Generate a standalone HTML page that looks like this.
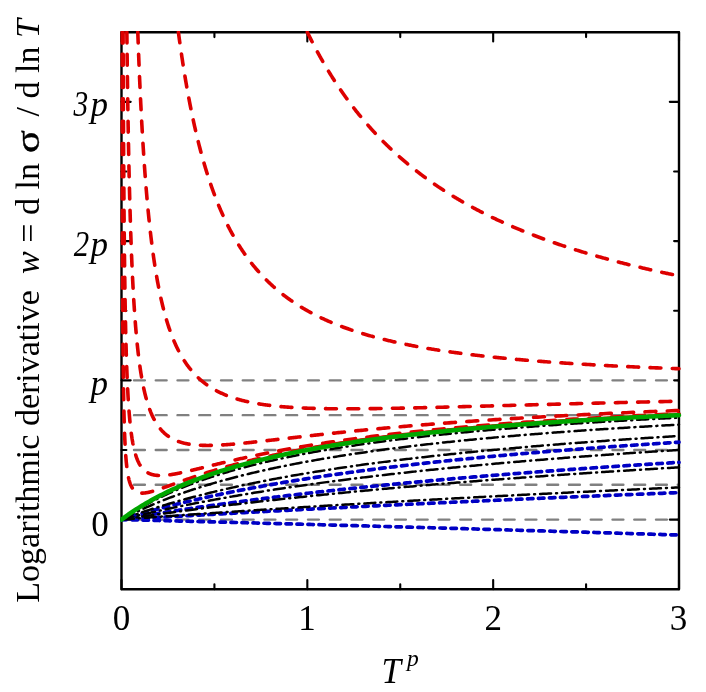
<!DOCTYPE html>
<html><head><meta charset="utf-8"><title>chart</title>
<style>
html,body{margin:0;padding:0;background:#fff;}
body{width:706px;height:692px;position:relative;overflow:hidden;font-family:"Liberation Serif",serif;color:#000;}
</style></head><body>
<svg width="706" height="692" viewBox="0 0 706 692" style="position:absolute;left:0;top:0;will-change:transform">
<defs><clipPath id="cp"><rect x="120.2" y="31" width="563" height="559.4"/></clipPath></defs>
<line x1="134.0" x2="678" y1="519.58" y2="519.58" stroke="#808080" stroke-width="2.4" stroke-linecap="round" stroke-dasharray="10.9 10.85"/>
<line x1="134.0" x2="678" y1="484.76" y2="484.76" stroke="#808080" stroke-width="2.4" stroke-linecap="round" stroke-dasharray="10.9 10.85"/>
<line x1="134.0" x2="678" y1="449.95" y2="449.95" stroke="#808080" stroke-width="2.4" stroke-linecap="round" stroke-dasharray="10.9 10.85"/>
<line x1="134.0" x2="678" y1="415.14" y2="415.14" stroke="#808080" stroke-width="2.4" stroke-linecap="round" stroke-dasharray="10.9 10.85"/>
<line x1="134.0" x2="678" y1="380.33" y2="380.33" stroke="#808080" stroke-width="2.4" stroke-linecap="round" stroke-dasharray="10.9 10.85"/>
<rect x="121.50" y="32.20" width="557.50" height="557.00" fill="none" stroke="#000" stroke-width="2.4" stroke-linejoin="round"/>
<path d="M121.50 589.20v-9.20M121.50 32.20v9.20M214.42 589.20v-4.90M214.42 32.20v4.90M307.33 589.20v-9.20M307.33 32.20v9.20M400.25 589.20v-4.90M400.25 32.20v4.90M493.17 589.20v-9.20M493.17 32.20v9.20M586.08 589.20v-4.90M586.08 32.20v4.90M679.00 589.20v-9.20M679.00 32.20v9.20M121.50 519.58h9.20M679.00 519.58h-9.20M121.50 449.95h4.90M679.00 449.95h-4.90M121.50 380.33h9.20M679.00 380.33h-4.90M121.50 310.70h4.90M679.00 310.70h-4.90M121.50 241.08h9.20M679.00 241.08h-4.90M121.50 171.45h4.90M679.00 171.45h-4.90M121.50 101.83h9.20M679.00 101.83h-9.20" stroke="#000" stroke-width="2.1" fill="none" stroke-linecap="round"/>
<g clip-path="url(#cp)" fill="none" stroke-linecap="round">
<path d="M121.50 519.58 L123.36 519.00 L125.23 518.42 L127.09 517.85 L128.96 517.28 L130.82 516.72 L132.69 516.17 L134.55 515.62 L136.42 515.07 L138.28 514.53 L140.15 513.99 L142.01 513.45 L143.87 512.92 L145.74 512.40 L147.60 511.88 L149.47 511.36 L151.33 510.84 L153.20 510.34 L155.06 509.83 L156.93 509.33 L158.79 508.83 L160.66 508.34 L162.52 507.85 L164.38 507.36 L166.25 506.88 L168.11 506.40 L169.98 505.92 L171.84 505.45 L173.71 504.98 L175.57 504.52 L177.44 504.06 L179.30 503.60 L181.17 503.14 L183.03 502.69 L184.89 502.25 L186.76 501.80 L188.62 501.36 L190.49 500.92 L192.35 500.49 L194.22 500.05 L196.08 499.63 L197.95 499.20 L199.81 498.78 L201.68 498.36 L203.54 497.94 L205.40 497.53 L207.27 497.12 L209.13 496.71 L211.00 496.30 L212.86 495.90 L214.73 495.50 L216.59 495.10 L218.46 494.71 L220.32 494.32 L222.19 493.93 L224.05 493.54 L225.91 493.16 L227.78 492.78 L229.64 492.40 L231.51 492.02 L233.37 491.65 L235.24 491.28 L237.10 490.91 L238.97 490.55 L240.83 490.18 L242.70 489.82 L244.56 489.46 L246.42 489.11 L248.29 488.75 L250.15 488.40 L252.02 488.05 L253.88 487.70 L255.75 487.36 L257.61 487.01 L259.48 486.67 L261.34 486.34 L263.21 486.00 L265.07 485.67 L266.93 485.33 L268.80 485.00 L270.66 484.68 L272.53 484.35 L274.39 484.03 L276.26 483.70 L278.12 483.38 L279.99 483.07 L281.85 482.75 L283.72 482.44 L285.58 482.12 L287.44 481.81 L289.31 481.51 L291.17 481.20 L293.04 480.89 L294.90 480.59 L296.77 480.29 L298.63 479.99 L300.50 479.69 L302.36 479.40 L304.23 479.10 L306.09 478.81 L307.95 478.52 L309.82 478.23 L311.68 477.95 L313.55 477.66 L315.41 477.38 L317.28 477.10 L319.14 476.82 L321.01 476.54 L322.87 476.26 L324.74 475.98 L326.60 475.71 L328.46 475.44 L330.33 475.17 L332.19 474.90 L334.06 474.63 L335.92 474.36 L337.79 474.10 L339.65 473.84 L341.52 473.57 L343.38 473.31 L345.25 473.05 L347.11 472.80 L348.97 472.54 L350.84 472.29 L352.70 472.03 L354.57 471.78 L356.43 471.53 L358.30 471.28 L360.16 471.03 L362.03 470.79 L363.89 470.54 L365.76 470.30 L367.62 470.06 L369.48 469.82 L371.35 469.58 L373.21 469.34 L375.08 469.10 L376.94 468.86 L378.81 468.63 L380.67 468.40 L382.54 468.16 L384.40 467.93 L386.27 467.70 L388.13 467.47 L389.99 467.25 L391.86 467.02 L393.72 466.80 L395.59 466.57 L397.45 466.35 L399.32 466.13 L401.18 465.91 L403.05 465.69 L404.91 465.47 L406.78 465.25 L408.64 465.04 L410.51 464.82 L412.37 464.61 L414.23 464.40 L416.10 464.18 L417.96 463.97 L419.83 463.76 L421.69 463.55 L423.56 463.35 L425.42 463.14 L427.29 462.94 L429.15 462.73 L431.02 462.53 L432.88 462.33 L434.74 462.12 L436.61 461.92 L438.47 461.72 L440.34 461.53 L442.20 461.33 L444.07 461.13 L445.93 460.94 L447.80 460.74 L449.66 460.55 L451.53 460.36 L453.39 460.16 L455.25 459.97 L457.12 459.78 L458.98 459.59 L460.85 459.41 L462.71 459.22 L464.58 459.03 L466.44 458.85 L468.31 458.66 L470.17 458.48 L472.04 458.29 L473.90 458.11 L475.76 457.93 L477.63 457.75 L479.49 457.57 L481.36 457.39 L483.22 457.21 L485.09 457.04 L486.95 456.86 L488.82 456.69 L490.68 456.51 L492.55 456.34 L494.41 456.16 L496.27 455.99 L498.14 455.82 L500.00 455.65 L501.87 455.48 L503.73 455.31 L505.60 455.14 L507.46 454.97 L509.33 454.81 L511.19 454.64 L513.06 454.48 L514.92 454.31 L516.78 454.15 L518.65 453.98 L520.51 453.82 L522.38 453.66 L524.24 453.50 L526.11 453.34 L527.97 453.18 L529.84 453.02 L531.70 452.86 L533.57 452.70 L535.43 452.55 L537.29 452.39 L539.16 452.23 L541.02 452.08 L542.89 451.93 L544.75 451.77 L546.62 451.62 L548.48 451.47 L550.35 451.32 L552.21 451.16 L554.08 451.01 L555.94 450.86 L557.80 450.72 L559.67 450.57 L561.53 450.42 L563.40 450.27 L565.26 450.13 L567.13 449.98 L568.99 449.83 L570.86 449.69 L572.72 449.54 L574.59 449.40 L576.45 449.26 L578.31 449.12 L580.18 448.97 L582.04 448.83 L583.91 448.69 L585.77 448.55 L587.64 448.41 L589.50 448.27 L591.37 448.14 L593.23 448.00 L595.10 447.86 L596.96 447.72 L598.82 447.59 L600.69 447.45 L602.55 447.32 L604.42 447.18 L606.28 447.05 L608.15 446.92 L610.01 446.78 L611.88 446.65 L613.74 446.52 L615.61 446.39 L617.47 446.26 L619.33 446.13 L621.20 446.00 L623.06 445.87 L624.93 445.74 L626.79 445.61 L628.66 445.48 L630.52 445.36 L632.39 445.23 L634.25 445.10 L636.12 444.98 L637.98 444.85 L639.84 444.73 L641.71 444.60 L643.57 444.48 L645.44 444.36 L647.30 444.23 L649.17 444.11 L651.03 443.99 L652.90 443.87 L654.76 443.75 L656.63 443.63 L658.49 443.51 L660.35 443.39 L662.22 443.27 L664.08 443.15 L665.95 443.03 L667.81 442.91 L669.68 442.79 L671.54 442.68 L673.41 442.56 L675.27 442.44 L677.14 442.33 L679.00 442.21" stroke="#0000c4" stroke-width="3.7" stroke-dasharray="5.5 5.5" stroke-dashoffset="0.5"/>
<path d="M121.50 519.58 L123.36 519.25 L125.23 518.93 L127.09 518.61 L128.96 518.29 L130.82 517.97 L132.69 517.65 L134.55 517.34 L136.42 517.02 L138.28 516.71 L140.15 516.40 L142.01 516.09 L143.87 515.78 L145.74 515.48 L147.60 515.17 L149.47 514.87 L151.33 514.56 L153.20 514.26 L155.06 513.96 L156.93 513.66 L158.79 513.37 L160.66 513.07 L162.52 512.78 L164.38 512.48 L166.25 512.19 L168.11 511.90 L169.98 511.61 L171.84 511.32 L173.71 511.04 L175.57 510.75 L177.44 510.47 L179.30 510.18 L181.17 509.90 L183.03 509.62 L184.89 509.34 L186.76 509.06 L188.62 508.78 L190.49 508.51 L192.35 508.23 L194.22 507.96 L196.08 507.69 L197.95 507.42 L199.81 507.15 L201.68 506.88 L203.54 506.61 L205.40 506.34 L207.27 506.08 L209.13 505.81 L211.00 505.55 L212.86 505.29 L214.73 505.03 L216.59 504.77 L218.46 504.51 L220.32 504.25 L222.19 503.99 L224.05 503.74 L225.91 503.48 L227.78 503.23 L229.64 502.98 L231.51 502.72 L233.37 502.47 L235.24 502.22 L237.10 501.98 L238.97 501.73 L240.83 501.48 L242.70 501.24 L244.56 500.99 L246.42 500.75 L248.29 500.51 L250.15 500.26 L252.02 500.02 L253.88 499.78 L255.75 499.55 L257.61 499.31 L259.48 499.07 L261.34 498.84 L263.21 498.60 L265.07 498.37 L266.93 498.13 L268.80 497.90 L270.66 497.67 L272.53 497.44 L274.39 497.21 L276.26 496.98 L278.12 496.75 L279.99 496.53 L281.85 496.30 L283.72 496.08 L285.58 495.85 L287.44 495.63 L289.31 495.41 L291.17 495.19 L293.04 494.97 L294.90 494.75 L296.77 494.53 L298.63 494.31 L300.50 494.09 L302.36 493.87 L304.23 493.66 L306.09 493.44 L307.95 493.23 L309.82 493.02 L311.68 492.80 L313.55 492.59 L315.41 492.38 L317.28 492.17 L319.14 491.96 L321.01 491.75 L322.87 491.55 L324.74 491.34 L326.60 491.13 L328.46 490.93 L330.33 490.72 L332.19 490.52 L334.06 490.32 L335.92 490.11 L337.79 489.91 L339.65 489.71 L341.52 489.51 L343.38 489.31 L345.25 489.11 L347.11 488.92 L348.97 488.72 L350.84 488.52 L352.70 488.33 L354.57 488.13 L356.43 487.94 L358.30 487.74 L360.16 487.55 L362.03 487.36 L363.89 487.17 L365.76 486.98 L367.62 486.78 L369.48 486.60 L371.35 486.41 L373.21 486.22 L375.08 486.03 L376.94 485.84 L378.81 485.66 L380.67 485.47 L382.54 485.29 L384.40 485.10 L386.27 484.92 L388.13 484.74 L389.99 484.55 L391.86 484.37 L393.72 484.19 L395.59 484.01 L397.45 483.83 L399.32 483.65 L401.18 483.47 L403.05 483.29 L404.91 483.12 L406.78 482.94 L408.64 482.76 L410.51 482.59 L412.37 482.41 L414.23 482.24 L416.10 482.07 L417.96 481.89 L419.83 481.72 L421.69 481.55 L423.56 481.38 L425.42 481.21 L427.29 481.04 L429.15 480.87 L431.02 480.70 L432.88 480.53 L434.74 480.36 L436.61 480.19 L438.47 480.03 L440.34 479.86 L442.20 479.69 L444.07 479.53 L445.93 479.36 L447.80 479.20 L449.66 479.04 L451.53 478.87 L453.39 478.71 L455.25 478.55 L457.12 478.39 L458.98 478.23 L460.85 478.07 L462.71 477.91 L464.58 477.75 L466.44 477.59 L468.31 477.43 L470.17 477.27 L472.04 477.12 L473.90 476.96 L475.76 476.80 L477.63 476.65 L479.49 476.49 L481.36 476.34 L483.22 476.18 L485.09 476.03 L486.95 475.88 L488.82 475.72 L490.68 475.57 L492.55 475.42 L494.41 475.27 L496.27 475.12 L498.14 474.97 L500.00 474.82 L501.87 474.67 L503.73 474.52 L505.60 474.37 L507.46 474.22 L509.33 474.07 L511.19 473.93 L513.06 473.78 L514.92 473.63 L516.78 473.49 L518.65 473.34 L520.51 473.20 L522.38 473.05 L524.24 472.91 L526.11 472.77 L527.97 472.62 L529.84 472.48 L531.70 472.34 L533.57 472.20 L535.43 472.06 L537.29 471.92 L539.16 471.78 L541.02 471.64 L542.89 471.50 L544.75 471.36 L546.62 471.22 L548.48 471.08 L550.35 470.94 L552.21 470.81 L554.08 470.67 L555.94 470.53 L557.80 470.40 L559.67 470.26 L561.53 470.12 L563.40 469.99 L565.26 469.86 L567.13 469.72 L568.99 469.59 L570.86 469.45 L572.72 469.32 L574.59 469.19 L576.45 469.06 L578.31 468.92 L580.18 468.79 L582.04 468.66 L583.91 468.53 L585.77 468.40 L587.64 468.27 L589.50 468.14 L591.37 468.01 L593.23 467.88 L595.10 467.76 L596.96 467.63 L598.82 467.50 L600.69 467.37 L602.55 467.25 L604.42 467.12 L606.28 466.99 L608.15 466.87 L610.01 466.74 L611.88 466.62 L613.74 466.49 L615.61 466.37 L617.47 466.25 L619.33 466.12 L621.20 466.00 L623.06 465.88 L624.93 465.75 L626.79 465.63 L628.66 465.51 L630.52 465.39 L632.39 465.27 L634.25 465.15 L636.12 465.03 L637.98 464.91 L639.84 464.79 L641.71 464.67 L643.57 464.55 L645.44 464.43 L647.30 464.31 L649.17 464.19 L651.03 464.08 L652.90 463.96 L654.76 463.84 L656.63 463.72 L658.49 463.61 L660.35 463.49 L662.22 463.38 L664.08 463.26 L665.95 463.15 L667.81 463.03 L669.68 462.92 L671.54 462.80 L673.41 462.69 L675.27 462.58 L677.14 462.46 L679.00 462.35" stroke="#0000c4" stroke-width="3.7" stroke-dasharray="5.5 5.5" stroke-dashoffset="0.5"/>
<path d="M121.50 519.58 L123.36 519.46 L125.23 519.35 L127.09 519.24 L128.96 519.13 L130.82 519.02 L132.69 518.91 L134.55 518.80 L136.42 518.69 L138.28 518.58 L140.15 518.47 L142.01 518.36 L143.87 518.25 L145.74 518.14 L147.60 518.03 L149.47 517.92 L151.33 517.81 L153.20 517.70 L155.06 517.59 L156.93 517.48 L158.79 517.37 L160.66 517.27 L162.52 517.16 L164.38 517.05 L166.25 516.94 L168.11 516.84 L169.98 516.73 L171.84 516.62 L173.71 516.51 L175.57 516.41 L177.44 516.30 L179.30 516.19 L181.17 516.09 L183.03 515.98 L184.89 515.88 L186.76 515.77 L188.62 515.66 L190.49 515.56 L192.35 515.45 L194.22 515.35 L196.08 515.24 L197.95 515.14 L199.81 515.03 L201.68 514.93 L203.54 514.82 L205.40 514.72 L207.27 514.62 L209.13 514.51 L211.00 514.41 L212.86 514.31 L214.73 514.20 L216.59 514.10 L218.46 514.00 L220.32 513.89 L222.19 513.79 L224.05 513.69 L225.91 513.58 L227.78 513.48 L229.64 513.38 L231.51 513.28 L233.37 513.18 L235.24 513.08 L237.10 512.97 L238.97 512.87 L240.83 512.77 L242.70 512.67 L244.56 512.57 L246.42 512.47 L248.29 512.37 L250.15 512.27 L252.02 512.17 L253.88 512.07 L255.75 511.97 L257.61 511.87 L259.48 511.77 L261.34 511.67 L263.21 511.57 L265.07 511.47 L266.93 511.37 L268.80 511.27 L270.66 511.17 L272.53 511.07 L274.39 510.98 L276.26 510.88 L278.12 510.78 L279.99 510.68 L281.85 510.58 L283.72 510.49 L285.58 510.39 L287.44 510.29 L289.31 510.19 L291.17 510.10 L293.04 510.00 L294.90 509.90 L296.77 509.81 L298.63 509.71 L300.50 509.61 L302.36 509.52 L304.23 509.42 L306.09 509.32 L307.95 509.23 L309.82 509.13 L311.68 509.04 L313.55 508.94 L315.41 508.85 L317.28 508.75 L319.14 508.66 L321.01 508.56 L322.87 508.47 L324.74 508.37 L326.60 508.28 L328.46 508.18 L330.33 508.09 L332.19 508.00 L334.06 507.90 L335.92 507.81 L337.79 507.71 L339.65 507.62 L341.52 507.53 L343.38 507.43 L345.25 507.34 L347.11 507.25 L348.97 507.15 L350.84 507.06 L352.70 506.97 L354.57 506.88 L356.43 506.79 L358.30 506.69 L360.16 506.60 L362.03 506.51 L363.89 506.42 L365.76 506.33 L367.62 506.23 L369.48 506.14 L371.35 506.05 L373.21 505.96 L375.08 505.87 L376.94 505.78 L378.81 505.69 L380.67 505.60 L382.54 505.51 L384.40 505.42 L386.27 505.33 L388.13 505.24 L389.99 505.15 L391.86 505.06 L393.72 504.97 L395.59 504.88 L397.45 504.79 L399.32 504.70 L401.18 504.61 L403.05 504.52 L404.91 504.43 L406.78 504.34 L408.64 504.26 L410.51 504.17 L412.37 504.08 L414.23 503.99 L416.10 503.90 L417.96 503.81 L419.83 503.73 L421.69 503.64 L423.56 503.55 L425.42 503.46 L427.29 503.38 L429.15 503.29 L431.02 503.20 L432.88 503.12 L434.74 503.03 L436.61 502.94 L438.47 502.86 L440.34 502.77 L442.20 502.68 L444.07 502.60 L445.93 502.51 L447.80 502.42 L449.66 502.34 L451.53 502.25 L453.39 502.17 L455.25 502.08 L457.12 502.00 L458.98 501.91 L460.85 501.83 L462.71 501.74 L464.58 501.66 L466.44 501.57 L468.31 501.49 L470.17 501.40 L472.04 501.32 L473.90 501.23 L475.76 501.15 L477.63 501.06 L479.49 500.98 L481.36 500.90 L483.22 500.81 L485.09 500.73 L486.95 500.65 L488.82 500.56 L490.68 500.48 L492.55 500.40 L494.41 500.31 L496.27 500.23 L498.14 500.15 L500.00 500.06 L501.87 499.98 L503.73 499.90 L505.60 499.82 L507.46 499.73 L509.33 499.65 L511.19 499.57 L513.06 499.49 L514.92 499.41 L516.78 499.33 L518.65 499.24 L520.51 499.16 L522.38 499.08 L524.24 499.00 L526.11 498.92 L527.97 498.84 L529.84 498.76 L531.70 498.68 L533.57 498.59 L535.43 498.51 L537.29 498.43 L539.16 498.35 L541.02 498.27 L542.89 498.19 L544.75 498.11 L546.62 498.03 L548.48 497.95 L550.35 497.87 L552.21 497.79 L554.08 497.71 L555.94 497.64 L557.80 497.56 L559.67 497.48 L561.53 497.40 L563.40 497.32 L565.26 497.24 L567.13 497.16 L568.99 497.08 L570.86 497.00 L572.72 496.93 L574.59 496.85 L576.45 496.77 L578.31 496.69 L580.18 496.61 L582.04 496.54 L583.91 496.46 L585.77 496.38 L587.64 496.30 L589.50 496.22 L591.37 496.15 L593.23 496.07 L595.10 495.99 L596.96 495.92 L598.82 495.84 L600.69 495.76 L602.55 495.69 L604.42 495.61 L606.28 495.53 L608.15 495.46 L610.01 495.38 L611.88 495.30 L613.74 495.23 L615.61 495.15 L617.47 495.07 L619.33 495.00 L621.20 494.92 L623.06 494.85 L624.93 494.77 L626.79 494.70 L628.66 494.62 L630.52 494.55 L632.39 494.47 L634.25 494.40 L636.12 494.32 L637.98 494.25 L639.84 494.17 L641.71 494.10 L643.57 494.02 L645.44 493.95 L647.30 493.87 L649.17 493.80 L651.03 493.72 L652.90 493.65 L654.76 493.58 L656.63 493.50 L658.49 493.43 L660.35 493.36 L662.22 493.28 L664.08 493.21 L665.95 493.13 L667.81 493.06 L669.68 492.99 L671.54 492.91 L673.41 492.84 L675.27 492.77 L677.14 492.70 L679.00 492.62" stroke="#0000c4" stroke-width="3.7" stroke-dasharray="5.5 5.5" stroke-dashoffset="0.5"/>
<path d="M121.50 519.58 L123.36 519.62 L125.23 519.67 L127.09 519.71 L128.96 519.76 L130.82 519.81 L132.69 519.85 L134.55 519.90 L136.42 519.95 L138.28 520.00 L140.15 520.04 L142.01 520.09 L143.87 520.14 L145.74 520.18 L147.60 520.23 L149.47 520.28 L151.33 520.32 L153.20 520.37 L155.06 520.42 L156.93 520.47 L158.79 520.51 L160.66 520.56 L162.52 520.61 L164.38 520.65 L166.25 520.70 L168.11 520.75 L169.98 520.80 L171.84 520.84 L173.71 520.89 L175.57 520.94 L177.44 520.99 L179.30 521.03 L181.17 521.08 L183.03 521.13 L184.89 521.18 L186.76 521.22 L188.62 521.27 L190.49 521.32 L192.35 521.37 L194.22 521.42 L196.08 521.46 L197.95 521.51 L199.81 521.56 L201.68 521.61 L203.54 521.65 L205.40 521.70 L207.27 521.75 L209.13 521.80 L211.00 521.85 L212.86 521.90 L214.73 521.94 L216.59 521.99 L218.46 522.04 L220.32 522.09 L222.19 522.14 L224.05 522.18 L225.91 522.23 L227.78 522.28 L229.64 522.33 L231.51 522.38 L233.37 522.43 L235.24 522.48 L237.10 522.52 L238.97 522.57 L240.83 522.62 L242.70 522.67 L244.56 522.72 L246.42 522.77 L248.29 522.82 L250.15 522.86 L252.02 522.91 L253.88 522.96 L255.75 523.01 L257.61 523.06 L259.48 523.11 L261.34 523.16 L263.21 523.21 L265.07 523.26 L266.93 523.30 L268.80 523.35 L270.66 523.40 L272.53 523.45 L274.39 523.50 L276.26 523.55 L278.12 523.60 L279.99 523.65 L281.85 523.70 L283.72 523.75 L285.58 523.80 L287.44 523.85 L289.31 523.90 L291.17 523.95 L293.04 524.00 L294.90 524.05 L296.77 524.09 L298.63 524.14 L300.50 524.19 L302.36 524.24 L304.23 524.29 L306.09 524.34 L307.95 524.39 L309.82 524.44 L311.68 524.49 L313.55 524.54 L315.41 524.59 L317.28 524.64 L319.14 524.69 L321.01 524.74 L322.87 524.79 L324.74 524.84 L326.60 524.89 L328.46 524.94 L330.33 524.99 L332.19 525.04 L334.06 525.09 L335.92 525.15 L337.79 525.20 L339.65 525.25 L341.52 525.30 L343.38 525.35 L345.25 525.40 L347.11 525.45 L348.97 525.50 L350.84 525.55 L352.70 525.60 L354.57 525.65 L356.43 525.70 L358.30 525.75 L360.16 525.80 L362.03 525.85 L363.89 525.90 L365.76 525.96 L367.62 526.01 L369.48 526.06 L371.35 526.11 L373.21 526.16 L375.08 526.21 L376.94 526.26 L378.81 526.31 L380.67 526.36 L382.54 526.42 L384.40 526.47 L386.27 526.52 L388.13 526.57 L389.99 526.62 L391.86 526.67 L393.72 526.72 L395.59 526.78 L397.45 526.83 L399.32 526.88 L401.18 526.93 L403.05 526.98 L404.91 527.03 L406.78 527.08 L408.64 527.14 L410.51 527.19 L412.37 527.24 L414.23 527.29 L416.10 527.34 L417.96 527.40 L419.83 527.45 L421.69 527.50 L423.56 527.55 L425.42 527.60 L427.29 527.66 L429.15 527.71 L431.02 527.76 L432.88 527.81 L434.74 527.86 L436.61 527.92 L438.47 527.97 L440.34 528.02 L442.20 528.07 L444.07 528.13 L445.93 528.18 L447.80 528.23 L449.66 528.28 L451.53 528.34 L453.39 528.39 L455.25 528.44 L457.12 528.49 L458.98 528.55 L460.85 528.60 L462.71 528.65 L464.58 528.71 L466.44 528.76 L468.31 528.81 L470.17 528.86 L472.04 528.92 L473.90 528.97 L475.76 529.02 L477.63 529.08 L479.49 529.13 L481.36 529.18 L483.22 529.24 L485.09 529.29 L486.95 529.34 L488.82 529.40 L490.68 529.45 L492.55 529.50 L494.41 529.56 L496.27 529.61 L498.14 529.66 L500.00 529.72 L501.87 529.77 L503.73 529.83 L505.60 529.88 L507.46 529.93 L509.33 529.99 L511.19 530.04 L513.06 530.09 L514.92 530.15 L516.78 530.20 L518.65 530.26 L520.51 530.31 L522.38 530.36 L524.24 530.42 L526.11 530.47 L527.97 530.53 L529.84 530.58 L531.70 530.63 L533.57 530.69 L535.43 530.74 L537.29 530.80 L539.16 530.85 L541.02 530.91 L542.89 530.96 L544.75 531.02 L546.62 531.07 L548.48 531.12 L550.35 531.18 L552.21 531.23 L554.08 531.29 L555.94 531.34 L557.80 531.40 L559.67 531.45 L561.53 531.51 L563.40 531.56 L565.26 531.62 L567.13 531.67 L568.99 531.73 L570.86 531.78 L572.72 531.84 L574.59 531.89 L576.45 531.95 L578.31 532.00 L580.18 532.06 L582.04 532.11 L583.91 532.17 L585.77 532.22 L587.64 532.28 L589.50 532.34 L591.37 532.39 L593.23 532.45 L595.10 532.50 L596.96 532.56 L598.82 532.61 L600.69 532.67 L602.55 532.73 L604.42 532.78 L606.28 532.84 L608.15 532.89 L610.01 532.95 L611.88 533.00 L613.74 533.06 L615.61 533.12 L617.47 533.17 L619.33 533.23 L621.20 533.29 L623.06 533.34 L624.93 533.40 L626.79 533.45 L628.66 533.51 L630.52 533.57 L632.39 533.62 L634.25 533.68 L636.12 533.74 L637.98 533.79 L639.84 533.85 L641.71 533.91 L643.57 533.96 L645.44 534.02 L647.30 534.08 L649.17 534.13 L651.03 534.19 L652.90 534.25 L654.76 534.30 L656.63 534.36 L658.49 534.42 L660.35 534.47 L662.22 534.53 L664.08 534.59 L665.95 534.65 L667.81 534.70 L669.68 534.76 L671.54 534.82 L673.41 534.87 L675.27 534.93 L677.14 534.99 L679.00 535.05" stroke="#0000c4" stroke-width="3.7" stroke-dasharray="5.5 5.5" stroke-dashoffset="0.5"/>
<path d="M121.50 519.58 L123.36 518.32 L125.23 517.08 L127.09 515.87 L128.96 514.67 L130.82 513.50 L132.69 512.35 L134.55 511.22 L136.42 510.10 L138.28 509.01 L140.15 507.94 L142.01 506.88 L143.87 505.84 L145.74 504.81 L147.60 503.81 L149.47 502.82 L151.33 501.84 L153.20 500.88 L155.06 499.94 L156.93 499.01 L158.79 498.09 L160.66 497.19 L162.52 496.30 L164.38 495.43 L166.25 494.57 L168.11 493.72 L169.98 492.88 L171.84 492.06 L173.71 491.25 L175.57 490.45 L177.44 489.66 L179.30 488.88 L181.17 488.11 L183.03 487.36 L184.89 486.61 L186.76 485.88 L188.62 485.15 L190.49 484.44 L192.35 483.73 L194.22 483.04 L196.08 482.35 L197.95 481.67 L199.81 481.00 L201.68 480.35 L203.54 479.69 L205.40 479.05 L207.27 478.42 L209.13 477.79 L211.00 477.17 L212.86 476.56 L214.73 475.96 L216.59 475.36 L218.46 474.78 L220.32 474.20 L222.19 473.62 L224.05 473.05 L225.91 472.50 L227.78 471.94 L229.64 471.40 L231.51 470.86 L233.37 470.32 L235.24 469.79 L237.10 469.27 L238.97 468.76 L240.83 468.25 L242.70 467.74 L244.56 467.25 L246.42 466.76 L248.29 466.27 L250.15 465.79 L252.02 465.31 L253.88 464.84 L255.75 464.38 L257.61 463.92 L259.48 463.46 L261.34 463.01 L263.21 462.56 L265.07 462.12 L266.93 461.69 L268.80 461.26 L270.66 460.83 L272.53 460.41 L274.39 459.99 L276.26 459.58 L278.12 459.17 L279.99 458.76 L281.85 458.36 L283.72 457.96 L285.58 457.57 L287.44 457.18 L289.31 456.80 L291.17 456.42 L293.04 456.04 L294.90 455.67 L296.77 455.30 L298.63 454.93 L300.50 454.57 L302.36 454.21 L304.23 453.85 L306.09 453.50 L307.95 453.15 L309.82 452.80 L311.68 452.46 L313.55 452.12 L315.41 451.79 L317.28 451.45 L319.14 451.12 L321.01 450.80 L322.87 450.47 L324.74 450.15 L326.60 449.83 L328.46 449.52 L330.33 449.21 L332.19 448.90 L334.06 448.59 L335.92 448.29 L337.79 447.99 L339.65 447.69 L341.52 447.39 L343.38 447.10 L345.25 446.81 L347.11 446.52 L348.97 446.23 L350.84 445.95 L352.70 445.67 L354.57 445.39 L356.43 445.11 L358.30 444.84 L360.16 444.57 L362.03 444.30 L363.89 444.03 L365.76 443.77 L367.62 443.51 L369.48 443.24 L371.35 442.99 L373.21 442.73 L375.08 442.48 L376.94 442.22 L378.81 441.97 L380.67 441.73 L382.54 441.48 L384.40 441.24 L386.27 440.99 L388.13 440.75 L389.99 440.52 L391.86 440.28 L393.72 440.05 L395.59 439.81 L397.45 439.58 L399.32 439.35 L401.18 439.13 L403.05 438.90 L404.91 438.68 L406.78 438.45 L408.64 438.23 L410.51 438.01 L412.37 437.80 L414.23 437.58 L416.10 437.37 L417.96 437.16 L419.83 436.94 L421.69 436.74 L423.56 436.53 L425.42 436.32 L427.29 436.12 L429.15 435.91 L431.02 435.71 L432.88 435.51 L434.74 435.31 L436.61 435.12 L438.47 434.92 L440.34 434.72 L442.20 434.53 L444.07 434.34 L445.93 434.15 L447.80 433.96 L449.66 433.77 L451.53 433.59 L453.39 433.40 L455.25 433.22 L457.12 433.03 L458.98 432.85 L460.85 432.67 L462.71 432.49 L464.58 432.32 L466.44 432.14 L468.31 431.96 L470.17 431.79 L472.04 431.62 L473.90 431.45 L475.76 431.28 L477.63 431.11 L479.49 430.94 L481.36 430.77 L483.22 430.60 L485.09 430.44 L486.95 430.28 L488.82 430.11 L490.68 429.95 L492.55 429.79 L494.41 429.63 L496.27 429.47 L498.14 429.31 L500.00 429.16 L501.87 429.00 L503.73 428.85 L505.60 428.69 L507.46 428.54 L509.33 428.39 L511.19 428.24 L513.06 428.09 L514.92 427.94 L516.78 427.79 L518.65 427.64 L520.51 427.50 L522.38 427.35 L524.24 427.21 L526.11 427.06 L527.97 426.92 L529.84 426.78 L531.70 426.64 L533.57 426.50 L535.43 426.36 L537.29 426.22 L539.16 426.08 L541.02 425.95 L542.89 425.81 L544.75 425.68 L546.62 425.54 L548.48 425.41 L550.35 425.27 L552.21 425.14 L554.08 425.01 L555.94 424.88 L557.80 424.75 L559.67 424.62 L561.53 424.49 L563.40 424.37 L565.26 424.24 L567.13 424.11 L568.99 423.99 L570.86 423.86 L572.72 423.74 L574.59 423.62 L576.45 423.50 L578.31 423.37 L580.18 423.25 L582.04 423.13 L583.91 423.01 L585.77 422.89 L587.64 422.78 L589.50 422.66 L591.37 422.54 L593.23 422.42 L595.10 422.31 L596.96 422.19 L598.82 422.08 L600.69 421.96 L602.55 421.85 L604.42 421.74 L606.28 421.63 L608.15 421.52 L610.01 421.40 L611.88 421.29 L613.74 421.18 L615.61 421.08 L617.47 420.97 L619.33 420.86 L621.20 420.75 L623.06 420.64 L624.93 420.54 L626.79 420.43 L628.66 420.33 L630.52 420.22 L632.39 420.12 L634.25 420.02 L636.12 419.91 L637.98 419.81 L639.84 419.71 L641.71 419.61 L643.57 419.51 L645.44 419.41 L647.30 419.31 L649.17 419.21 L651.03 419.11 L652.90 419.01 L654.76 418.91 L656.63 418.82 L658.49 418.72 L660.35 418.62 L662.22 418.53 L664.08 418.43 L665.95 418.34 L667.81 418.24 L669.68 418.15 L671.54 418.05 L673.41 417.96 L675.27 417.87 L677.14 417.78 L679.00 417.68" stroke="#000" stroke-width="2.5" stroke-dasharray="11 5 1 5" stroke-dashoffset="-2.5"/>
<path d="M121.50 519.58 L123.36 518.58 L125.23 517.61 L127.09 516.64 L128.96 515.69 L130.82 514.76 L132.69 513.83 L134.55 512.92 L136.42 512.02 L138.28 511.14 L140.15 510.26 L142.01 509.40 L143.87 508.55 L145.74 507.71 L147.60 506.88 L149.47 506.06 L151.33 505.25 L153.20 504.45 L155.06 503.66 L156.93 502.89 L158.79 502.12 L160.66 501.36 L162.52 500.61 L164.38 499.87 L166.25 499.14 L168.11 498.42 L169.98 497.70 L171.84 497.00 L173.71 496.30 L175.57 495.61 L177.44 494.93 L179.30 494.26 L181.17 493.60 L183.03 492.94 L184.89 492.29 L186.76 491.65 L188.62 491.02 L190.49 490.39 L192.35 489.77 L194.22 489.16 L196.08 488.55 L197.95 487.95 L199.81 487.36 L201.68 486.77 L203.54 486.19 L205.40 485.62 L207.27 485.05 L209.13 484.49 L211.00 483.93 L212.86 483.38 L214.73 482.84 L216.59 482.30 L218.46 481.77 L220.32 481.24 L222.19 480.72 L224.05 480.21 L225.91 479.69 L227.78 479.19 L229.64 478.69 L231.51 478.19 L233.37 477.70 L235.24 477.22 L237.10 476.74 L238.97 476.26 L240.83 475.79 L242.70 475.32 L244.56 474.86 L246.42 474.40 L248.29 473.95 L250.15 473.50 L252.02 473.05 L253.88 472.61 L255.75 472.18 L257.61 471.75 L259.48 471.32 L261.34 470.89 L263.21 470.47 L265.07 470.06 L266.93 469.64 L268.80 469.24 L270.66 468.83 L272.53 468.43 L274.39 468.03 L276.26 467.64 L278.12 467.25 L279.99 466.86 L281.85 466.48 L283.72 466.10 L285.58 465.72 L287.44 465.35 L289.31 464.98 L291.17 464.61 L293.04 464.24 L294.90 463.88 L296.77 463.53 L298.63 463.17 L300.50 462.82 L302.36 462.47 L304.23 462.12 L306.09 461.78 L307.95 461.44 L309.82 461.10 L311.68 460.77 L313.55 460.44 L315.41 460.11 L317.28 459.78 L319.14 459.46 L321.01 459.14 L322.87 458.82 L324.74 458.50 L326.60 458.19 L328.46 457.88 L330.33 457.57 L332.19 457.27 L334.06 456.96 L335.92 456.66 L337.79 456.36 L339.65 456.07 L341.52 455.77 L343.38 455.48 L345.25 455.19 L347.11 454.90 L348.97 454.62 L350.84 454.33 L352.70 454.05 L354.57 453.78 L356.43 453.50 L358.30 453.22 L360.16 452.95 L362.03 452.68 L363.89 452.41 L365.76 452.15 L367.62 451.88 L369.48 451.62 L371.35 451.36 L373.21 451.10 L375.08 450.84 L376.94 450.59 L378.81 450.33 L380.67 450.08 L382.54 449.83 L384.40 449.59 L386.27 449.34 L388.13 449.10 L389.99 448.85 L391.86 448.61 L393.72 448.37 L395.59 448.14 L397.45 447.90 L399.32 447.67 L401.18 447.43 L403.05 447.20 L404.91 446.97 L406.78 446.74 L408.64 446.52 L410.51 446.29 L412.37 446.07 L414.23 445.85 L416.10 445.63 L417.96 445.41 L419.83 445.19 L421.69 444.98 L423.56 444.76 L425.42 444.55 L427.29 444.34 L429.15 444.13 L431.02 443.92 L432.88 443.71 L434.74 443.51 L436.61 443.30 L438.47 443.10 L440.34 442.89 L442.20 442.69 L444.07 442.49 L445.93 442.30 L447.80 442.10 L449.66 441.90 L451.53 441.71 L453.39 441.52 L455.25 441.32 L457.12 441.13 L458.98 440.94 L460.85 440.75 L462.71 440.57 L464.58 440.38 L466.44 440.20 L468.31 440.01 L470.17 439.83 L472.04 439.65 L473.90 439.47 L475.76 439.29 L477.63 439.11 L479.49 438.93 L481.36 438.76 L483.22 438.58 L485.09 438.41 L486.95 438.23 L488.82 438.06 L490.68 437.89 L492.55 437.72 L494.41 437.55 L496.27 437.38 L498.14 437.22 L500.00 437.05 L501.87 436.88 L503.73 436.72 L505.60 436.56 L507.46 436.39 L509.33 436.23 L511.19 436.07 L513.06 435.91 L514.92 435.75 L516.78 435.60 L518.65 435.44 L520.51 435.28 L522.38 435.13 L524.24 434.98 L526.11 434.82 L527.97 434.67 L529.84 434.52 L531.70 434.37 L533.57 434.22 L535.43 434.07 L537.29 433.92 L539.16 433.77 L541.02 433.63 L542.89 433.48 L544.75 433.34 L546.62 433.19 L548.48 433.05 L550.35 432.90 L552.21 432.76 L554.08 432.62 L555.94 432.48 L557.80 432.34 L559.67 432.20 L561.53 432.06 L563.40 431.93 L565.26 431.79 L567.13 431.65 L568.99 431.52 L570.86 431.38 L572.72 431.25 L574.59 431.12 L576.45 430.99 L578.31 430.85 L580.18 430.72 L582.04 430.59 L583.91 430.46 L585.77 430.33 L587.64 430.21 L589.50 430.08 L591.37 429.95 L593.23 429.82 L595.10 429.70 L596.96 429.57 L598.82 429.45 L600.69 429.32 L602.55 429.20 L604.42 429.08 L606.28 428.96 L608.15 428.84 L610.01 428.71 L611.88 428.59 L613.74 428.47 L615.61 428.36 L617.47 428.24 L619.33 428.12 L621.20 428.00 L623.06 427.89 L624.93 427.77 L626.79 427.65 L628.66 427.54 L630.52 427.42 L632.39 427.31 L634.25 427.20 L636.12 427.08 L637.98 426.97 L639.84 426.86 L641.71 426.75 L643.57 426.64 L645.44 426.53 L647.30 426.42 L649.17 426.31 L651.03 426.20 L652.90 426.09 L654.76 425.99 L656.63 425.88 L658.49 425.77 L660.35 425.67 L662.22 425.56 L664.08 425.46 L665.95 425.35 L667.81 425.25 L669.68 425.14 L671.54 425.04 L673.41 424.94 L675.27 424.83 L677.14 424.73 L679.00 424.63" stroke="#000" stroke-width="2.5" stroke-dasharray="11 5 1 5" stroke-dashoffset="-2.5"/>
<path d="M121.50 519.58 L123.36 518.88 L125.23 518.19 L127.09 517.51 L128.96 516.84 L130.82 516.17 L132.69 515.51 L134.55 514.85 L136.42 514.20 L138.28 513.56 L140.15 512.92 L142.01 512.29 L143.87 511.67 L145.74 511.05 L147.60 510.44 L149.47 509.83 L151.33 509.23 L153.20 508.63 L155.06 508.04 L156.93 507.46 L158.79 506.88 L160.66 506.30 L162.52 505.73 L164.38 505.17 L166.25 504.61 L168.11 504.06 L169.98 503.51 L171.84 502.96 L173.71 502.42 L175.57 501.89 L177.44 501.36 L179.30 500.83 L181.17 500.31 L183.03 499.80 L184.89 499.28 L186.76 498.78 L188.62 498.27 L190.49 497.77 L192.35 497.28 L194.22 496.79 L196.08 496.30 L197.95 495.82 L199.81 495.34 L201.68 494.87 L203.54 494.40 L205.40 493.93 L207.27 493.47 L209.13 493.01 L211.00 492.55 L212.86 492.10 L214.73 491.65 L216.59 491.21 L218.46 490.76 L220.32 490.33 L222.19 489.89 L224.05 489.46 L225.91 489.03 L227.78 488.61 L229.64 488.19 L231.51 487.77 L233.37 487.36 L235.24 486.95 L237.10 486.54 L238.97 486.13 L240.83 485.73 L242.70 485.33 L244.56 484.94 L246.42 484.54 L248.29 484.15 L250.15 483.77 L252.02 483.38 L253.88 483.00 L255.75 482.62 L257.61 482.25 L259.48 481.88 L261.34 481.51 L263.21 481.14 L265.07 480.77 L266.93 480.41 L268.80 480.05 L270.66 479.69 L272.53 479.34 L274.39 478.99 L276.26 478.64 L278.12 478.29 L279.99 477.95 L281.85 477.60 L283.72 477.27 L285.58 476.93 L287.44 476.59 L289.31 476.26 L291.17 475.93 L293.04 475.60 L294.90 475.28 L296.77 474.95 L298.63 474.63 L300.50 474.31 L302.36 473.99 L304.23 473.68 L306.09 473.37 L307.95 473.05 L309.82 472.75 L311.68 472.44 L313.55 472.13 L315.41 471.83 L317.28 471.53 L319.14 471.23 L321.01 470.94 L322.87 470.64 L324.74 470.35 L326.60 470.06 L328.46 469.77 L330.33 469.48 L332.19 469.20 L334.06 468.91 L335.92 468.63 L337.79 468.35 L339.65 468.07 L341.52 467.80 L343.38 467.52 L345.25 467.25 L347.11 466.98 L348.97 466.71 L350.84 466.44 L352.70 466.17 L354.57 465.91 L356.43 465.64 L358.30 465.38 L360.16 465.12 L362.03 464.86 L363.89 464.61 L365.76 464.35 L367.62 464.10 L369.48 463.85 L371.35 463.60 L373.21 463.35 L375.08 463.10 L376.94 462.85 L378.81 462.61 L380.67 462.37 L382.54 462.12 L384.40 461.88 L386.27 461.64 L388.13 461.41 L389.99 461.17 L391.86 460.94 L393.72 460.70 L395.59 460.47 L397.45 460.24 L399.32 460.01 L401.18 459.78 L403.05 459.56 L404.91 459.33 L406.78 459.11 L408.64 458.88 L410.51 458.66 L412.37 458.44 L414.23 458.22 L416.10 458.00 L417.96 457.79 L419.83 457.57 L421.69 457.36 L423.56 457.14 L425.42 456.93 L427.29 456.72 L429.15 456.51 L431.02 456.30 L432.88 456.10 L434.74 455.89 L436.61 455.68 L438.47 455.48 L440.34 455.28 L442.20 455.08 L444.07 454.87 L445.93 454.67 L447.80 454.48 L449.66 454.28 L451.53 454.08 L453.39 453.89 L455.25 453.69 L457.12 453.50 L458.98 453.31 L460.85 453.11 L462.71 452.92 L464.58 452.74 L466.44 452.55 L468.31 452.36 L470.17 452.17 L472.04 451.99 L473.90 451.80 L475.76 451.62 L477.63 451.44 L479.49 451.25 L481.36 451.07 L483.22 450.89 L485.09 450.72 L486.95 450.54 L488.82 450.36 L490.68 450.18 L492.55 450.01 L494.41 449.83 L496.27 449.66 L498.14 449.49 L500.00 449.32 L501.87 449.14 L503.73 448.97 L505.60 448.80 L507.46 448.64 L509.33 448.47 L511.19 448.30 L513.06 448.14 L514.92 447.97 L516.78 447.81 L518.65 447.64 L520.51 447.48 L522.38 447.32 L524.24 447.16 L526.11 447.00 L527.97 446.84 L529.84 446.68 L531.70 446.52 L533.57 446.36 L535.43 446.20 L537.29 446.05 L539.16 445.89 L541.02 445.74 L542.89 445.58 L544.75 445.43 L546.62 445.28 L548.48 445.13 L550.35 444.98 L552.21 444.83 L554.08 444.68 L555.94 444.53 L557.80 444.38 L559.67 444.23 L561.53 444.09 L563.40 443.94 L565.26 443.79 L567.13 443.65 L568.99 443.51 L570.86 443.36 L572.72 443.22 L574.59 443.08 L576.45 442.94 L578.31 442.79 L580.18 442.65 L582.04 442.51 L583.91 442.38 L585.77 442.24 L587.64 442.10 L589.50 441.96 L591.37 441.83 L593.23 441.69 L595.10 441.55 L596.96 441.42 L598.82 441.29 L600.69 441.15 L602.55 441.02 L604.42 440.89 L606.28 440.75 L608.15 440.62 L610.01 440.49 L611.88 440.36 L613.74 440.23 L615.61 440.10 L617.47 439.98 L619.33 439.85 L621.20 439.72 L623.06 439.59 L624.93 439.47 L626.79 439.34 L628.66 439.22 L630.52 439.09 L632.39 438.97 L634.25 438.84 L636.12 438.72 L637.98 438.60 L639.84 438.48 L641.71 438.35 L643.57 438.23 L645.44 438.11 L647.30 437.99 L649.17 437.87 L651.03 437.75 L652.90 437.64 L654.76 437.52 L656.63 437.40 L658.49 437.28 L660.35 437.17 L662.22 437.05 L664.08 436.93 L665.95 436.82 L667.81 436.70 L669.68 436.59 L671.54 436.48 L673.41 436.36 L675.27 436.25 L677.14 436.14 L679.00 436.03" stroke="#000" stroke-width="2.5" stroke-dasharray="11 5 1 5" stroke-dashoffset="0.0"/>
<path d="M121.50 519.58 L123.36 519.11 L125.23 518.65 L127.09 518.19 L128.96 517.74 L130.82 517.28 L132.69 516.84 L134.55 516.39 L136.42 515.95 L138.28 515.51 L140.15 515.07 L142.01 514.63 L143.87 514.20 L145.74 513.77 L147.60 513.35 L149.47 512.92 L151.33 512.50 L153.20 512.08 L155.06 511.67 L156.93 511.26 L158.79 510.84 L160.66 510.44 L162.52 510.03 L164.38 509.63 L166.25 509.23 L168.11 508.83 L169.98 508.44 L171.84 508.04 L173.71 507.65 L175.57 507.26 L177.44 506.88 L179.30 506.49 L181.17 506.11 L183.03 505.73 L184.89 505.36 L186.76 504.98 L188.62 504.61 L190.49 504.24 L192.35 503.87 L194.22 503.51 L196.08 503.14 L197.95 502.78 L199.81 502.42 L201.68 502.07 L203.54 501.71 L205.40 501.36 L207.27 501.01 L209.13 500.66 L211.00 500.31 L212.86 499.97 L214.73 499.63 L216.59 499.28 L218.46 498.95 L220.32 498.61 L222.19 498.27 L224.05 497.94 L225.91 497.61 L227.78 497.28 L229.64 496.95 L231.51 496.63 L233.37 496.30 L235.24 495.98 L237.10 495.66 L238.97 495.34 L240.83 495.02 L242.70 494.71 L244.56 494.40 L246.42 494.08 L248.29 493.77 L250.15 493.47 L252.02 493.16 L253.88 492.85 L255.75 492.55 L257.61 492.25 L259.48 491.95 L261.34 491.65 L263.21 491.35 L265.07 491.06 L266.93 490.76 L268.80 490.47 L270.66 490.18 L272.53 489.89 L274.39 489.61 L276.26 489.32 L278.12 489.03 L279.99 488.75 L281.85 488.47 L283.72 488.19 L285.58 487.91 L287.44 487.63 L289.31 487.36 L291.17 487.08 L293.04 486.81 L294.90 486.54 L296.77 486.27 L298.63 486.00 L300.50 485.73 L302.36 485.47 L304.23 485.20 L306.09 484.94 L307.95 484.68 L309.82 484.41 L311.68 484.15 L313.55 483.90 L315.41 483.64 L317.28 483.38 L319.14 483.13 L321.01 482.88 L322.87 482.62 L324.74 482.37 L326.60 482.12 L328.46 481.88 L330.33 481.63 L332.19 481.38 L334.06 481.14 L335.92 480.89 L337.79 480.65 L339.65 480.41 L341.52 480.17 L343.38 479.93 L345.25 479.69 L347.11 479.46 L348.97 479.22 L350.84 478.99 L352.70 478.75 L354.57 478.52 L356.43 478.29 L358.30 478.06 L360.16 477.83 L362.03 477.60 L363.89 477.38 L365.76 477.15 L367.62 476.93 L369.48 476.70 L371.35 476.48 L373.21 476.26 L375.08 476.04 L376.94 475.82 L378.81 475.60 L380.67 475.38 L382.54 475.17 L384.40 474.95 L386.27 474.74 L388.13 474.52 L389.99 474.31 L391.86 474.10 L393.72 473.89 L395.59 473.68 L397.45 473.47 L399.32 473.26 L401.18 473.05 L403.05 472.85 L404.91 472.64 L406.78 472.44 L408.64 472.24 L410.51 472.03 L412.37 471.83 L414.23 471.63 L416.10 471.43 L417.96 471.23 L419.83 471.03 L421.69 470.84 L423.56 470.64 L425.42 470.45 L427.29 470.25 L429.15 470.06 L431.02 469.86 L432.88 469.67 L434.74 469.48 L436.61 469.29 L438.47 469.10 L440.34 468.91 L442.20 468.72 L444.07 468.54 L445.93 468.35 L447.80 468.16 L449.66 467.98 L451.53 467.80 L453.39 467.61 L455.25 467.43 L457.12 467.25 L458.98 467.07 L460.85 466.89 L462.71 466.71 L464.58 466.53 L466.44 466.35 L468.31 466.17 L470.17 466.00 L472.04 465.82 L473.90 465.64 L475.76 465.47 L477.63 465.30 L479.49 465.12 L481.36 464.95 L483.22 464.78 L485.09 464.61 L486.95 464.44 L488.82 464.27 L490.68 464.10 L492.55 463.93 L494.41 463.76 L496.27 463.60 L498.14 463.43 L500.00 463.26 L501.87 463.10 L503.73 462.94 L505.60 462.77 L507.46 462.61 L509.33 462.45 L511.19 462.29 L513.06 462.12 L514.92 461.96 L516.78 461.80 L518.65 461.64 L520.51 461.49 L522.38 461.33 L524.24 461.17 L526.11 461.01 L527.97 460.86 L529.84 460.70 L531.70 460.55 L533.57 460.39 L535.43 460.24 L537.29 460.09 L539.16 459.93 L541.02 459.78 L542.89 459.63 L544.75 459.48 L546.62 459.33 L548.48 459.18 L550.35 459.03 L552.21 458.88 L554.08 458.74 L555.94 458.59 L557.80 458.44 L559.67 458.29 L561.53 458.15 L563.40 458.00 L565.26 457.86 L567.13 457.71 L568.99 457.57 L570.86 457.43 L572.72 457.29 L574.59 457.14 L576.45 457.00 L578.31 456.86 L580.18 456.72 L582.04 456.58 L583.91 456.44 L585.77 456.30 L587.64 456.16 L589.50 456.03 L591.37 455.89 L593.23 455.75 L595.10 455.62 L596.96 455.48 L598.82 455.34 L600.69 455.21 L602.55 455.08 L604.42 454.94 L606.28 454.81 L608.15 454.67 L610.01 454.54 L611.88 454.41 L613.74 454.28 L615.61 454.15 L617.47 454.02 L619.33 453.89 L621.20 453.76 L623.06 453.63 L624.93 453.50 L626.79 453.37 L628.66 453.24 L630.52 453.11 L632.39 452.99 L634.25 452.86 L636.12 452.74 L637.98 452.61 L639.84 452.48 L641.71 452.36 L643.57 452.23 L645.44 452.11 L647.30 451.99 L649.17 451.86 L651.03 451.74 L652.90 451.62 L654.76 451.50 L656.63 451.38 L658.49 451.25 L660.35 451.13 L662.22 451.01 L664.08 450.89 L665.95 450.77 L667.81 450.66 L669.68 450.54 L671.54 450.42 L673.41 450.30 L675.27 450.18 L677.14 450.07 L679.00 449.95" stroke="#000" stroke-width="2.5" stroke-dasharray="11 5 1 5" stroke-dashoffset="-1.3"/>
<path d="M121.50 519.58 L123.36 519.30 L125.23 519.02 L127.09 518.74 L128.96 518.47 L130.82 518.19 L132.69 517.92 L134.55 517.65 L136.42 517.37 L138.28 517.10 L140.15 516.84 L142.01 516.57 L143.87 516.30 L145.74 516.03 L147.60 515.77 L149.47 515.51 L151.33 515.24 L153.20 514.98 L155.06 514.72 L156.93 514.46 L158.79 514.20 L160.66 513.94 L162.52 513.69 L164.38 513.43 L166.25 513.18 L168.11 512.92 L169.98 512.67 L171.84 512.42 L173.71 512.17 L175.57 511.92 L177.44 511.67 L179.30 511.42 L181.17 511.17 L183.03 510.93 L184.89 510.68 L186.76 510.44 L188.62 510.19 L190.49 509.95 L192.35 509.71 L194.22 509.47 L196.08 509.23 L197.95 508.99 L199.81 508.75 L201.68 508.51 L203.54 508.28 L205.40 508.04 L207.27 507.81 L209.13 507.57 L211.00 507.34 L212.86 507.11 L214.73 506.88 L216.59 506.65 L218.46 506.42 L220.32 506.19 L222.19 505.96 L224.05 505.73 L225.91 505.51 L227.78 505.28 L229.64 505.06 L231.51 504.83 L233.37 504.61 L235.24 504.39 L237.10 504.17 L238.97 503.95 L240.83 503.73 L242.70 503.51 L244.56 503.29 L246.42 503.07 L248.29 502.86 L250.15 502.64 L252.02 502.42 L253.88 502.21 L255.75 502.00 L257.61 501.78 L259.48 501.57 L261.34 501.36 L263.21 501.15 L265.07 500.94 L266.93 500.73 L268.80 500.52 L270.66 500.31 L272.53 500.11 L274.39 499.90 L276.26 499.69 L278.12 499.49 L279.99 499.28 L281.85 499.08 L283.72 498.88 L285.58 498.68 L287.44 498.47 L289.31 498.27 L291.17 498.07 L293.04 497.87 L294.90 497.67 L296.77 497.48 L298.63 497.28 L300.50 497.08 L302.36 496.89 L304.23 496.69 L306.09 496.50 L307.95 496.30 L309.82 496.11 L311.68 495.92 L313.55 495.72 L315.41 495.53 L317.28 495.34 L319.14 495.15 L321.01 494.96 L322.87 494.77 L324.74 494.58 L326.60 494.40 L328.46 494.21 L330.33 494.02 L332.19 493.84 L334.06 493.65 L335.92 493.47 L337.79 493.28 L339.65 493.10 L341.52 492.91 L343.38 492.73 L345.25 492.55 L347.11 492.37 L348.97 492.19 L350.84 492.01 L352.70 491.83 L354.57 491.65 L356.43 491.47 L358.30 491.29 L360.16 491.12 L362.03 490.94 L363.89 490.76 L365.76 490.59 L367.62 490.41 L369.48 490.24 L371.35 490.07 L373.21 489.89 L375.08 489.72 L376.94 489.55 L378.81 489.38 L380.67 489.21 L382.54 489.03 L384.40 488.86 L386.27 488.69 L388.13 488.53 L389.99 488.36 L391.86 488.19 L393.72 488.02 L395.59 487.86 L397.45 487.69 L399.32 487.52 L401.18 487.36 L403.05 487.19 L404.91 487.03 L406.78 486.86 L408.64 486.70 L410.51 486.54 L412.37 486.38 L414.23 486.21 L416.10 486.05 L417.96 485.89 L419.83 485.73 L421.69 485.57 L423.56 485.41 L425.42 485.25 L427.29 485.10 L429.15 484.94 L431.02 484.78 L432.88 484.62 L434.74 484.47 L436.61 484.31 L438.47 484.15 L440.34 484.00 L442.20 483.85 L444.07 483.69 L445.93 483.54 L447.80 483.38 L449.66 483.23 L451.53 483.08 L453.39 482.93 L455.25 482.78 L457.12 482.62 L458.98 482.47 L460.85 482.32 L462.71 482.17 L464.58 482.02 L466.44 481.88 L468.31 481.73 L470.17 481.58 L472.04 481.43 L473.90 481.28 L475.76 481.14 L477.63 480.99 L479.49 480.85 L481.36 480.70 L483.22 480.56 L485.09 480.41 L486.95 480.27 L488.82 480.12 L490.68 479.98 L492.55 479.84 L494.41 479.69 L496.27 479.55 L498.14 479.41 L500.00 479.27 L501.87 479.13 L503.73 478.99 L505.60 478.85 L507.46 478.71 L509.33 478.57 L511.19 478.43 L513.06 478.29 L514.92 478.15 L516.78 478.02 L518.65 477.88 L520.51 477.74 L522.38 477.60 L524.24 477.47 L526.11 477.33 L527.97 477.20 L529.84 477.06 L531.70 476.93 L533.57 476.79 L535.43 476.66 L537.29 476.53 L539.16 476.39 L541.02 476.26 L542.89 476.13 L544.75 476.00 L546.62 475.86 L548.48 475.73 L550.35 475.60 L552.21 475.47 L554.08 475.34 L555.94 475.21 L557.80 475.08 L559.67 474.95 L561.53 474.82 L563.40 474.69 L565.26 474.57 L567.13 474.44 L568.99 474.31 L570.86 474.18 L572.72 474.06 L574.59 473.93 L576.45 473.80 L578.31 473.68 L580.18 473.55 L582.04 473.43 L583.91 473.30 L585.77 473.18 L587.64 473.05 L589.50 472.93 L591.37 472.81 L593.23 472.68 L595.10 472.56 L596.96 472.44 L598.82 472.32 L600.69 472.20 L602.55 472.07 L604.42 471.95 L606.28 471.83 L608.15 471.71 L610.01 471.59 L611.88 471.47 L613.74 471.35 L615.61 471.23 L617.47 471.11 L619.33 471.00 L621.20 470.88 L623.06 470.76 L624.93 470.64 L626.79 470.52 L628.66 470.41 L630.52 470.29 L632.39 470.17 L634.25 470.06 L636.12 469.94 L637.98 469.83 L639.84 469.71 L641.71 469.60 L643.57 469.48 L645.44 469.37 L647.30 469.25 L649.17 469.14 L651.03 469.02 L652.90 468.91 L654.76 468.80 L656.63 468.69 L658.49 468.57 L660.35 468.46 L662.22 468.35 L664.08 468.24 L665.95 468.13 L667.81 468.02 L669.68 467.91 L671.54 467.80 L673.41 467.68 L675.27 467.58 L677.14 467.47 L679.00 467.36" stroke="#000" stroke-width="2.5" stroke-dasharray="11 5 1 5" stroke-dashoffset="0.9"/>
<path d="M121.50 519.58 L123.36 519.44 L125.23 519.30 L127.09 519.16 L128.96 519.02 L130.82 518.88 L132.69 518.74 L134.55 518.60 L136.42 518.47 L138.28 518.33 L140.15 518.19 L142.01 518.05 L143.87 517.92 L145.74 517.78 L147.60 517.65 L149.47 517.51 L151.33 517.37 L153.20 517.24 L155.06 517.10 L156.93 516.97 L158.79 516.84 L160.66 516.70 L162.52 516.57 L164.38 516.43 L166.25 516.30 L168.11 516.17 L169.98 516.03 L171.84 515.90 L173.71 515.77 L175.57 515.64 L177.44 515.51 L179.30 515.37 L181.17 515.24 L183.03 515.11 L184.89 514.98 L186.76 514.85 L188.62 514.72 L190.49 514.59 L192.35 514.46 L194.22 514.33 L196.08 514.20 L197.95 514.07 L199.81 513.94 L201.68 513.82 L203.54 513.69 L205.40 513.56 L207.27 513.43 L209.13 513.30 L211.00 513.18 L212.86 513.05 L214.73 512.92 L216.59 512.80 L218.46 512.67 L220.32 512.54 L222.19 512.42 L224.05 512.29 L225.91 512.17 L227.78 512.04 L229.64 511.92 L231.51 511.79 L233.37 511.67 L235.24 511.54 L237.10 511.42 L238.97 511.30 L240.83 511.17 L242.70 511.05 L244.56 510.93 L246.42 510.80 L248.29 510.68 L250.15 510.56 L252.02 510.44 L253.88 510.31 L255.75 510.19 L257.61 510.07 L259.48 509.95 L261.34 509.83 L263.21 509.71 L265.07 509.59 L266.93 509.47 L268.80 509.35 L270.66 509.23 L272.53 509.11 L274.39 508.99 L276.26 508.87 L278.12 508.75 L279.99 508.63 L281.85 508.51 L283.72 508.40 L285.58 508.28 L287.44 508.16 L289.31 508.04 L291.17 507.92 L293.04 507.81 L294.90 507.69 L296.77 507.57 L298.63 507.46 L300.50 507.34 L302.36 507.22 L304.23 507.11 L306.09 506.99 L307.95 506.88 L309.82 506.76 L311.68 506.65 L313.55 506.53 L315.41 506.42 L317.28 506.30 L319.14 506.19 L321.01 506.07 L322.87 505.96 L324.74 505.85 L326.60 505.73 L328.46 505.62 L330.33 505.51 L332.19 505.39 L334.06 505.28 L335.92 505.17 L337.79 505.06 L339.65 504.95 L341.52 504.83 L343.38 504.72 L345.25 504.61 L347.11 504.50 L348.97 504.39 L350.84 504.28 L352.70 504.17 L354.57 504.06 L356.43 503.95 L358.30 503.84 L360.16 503.73 L362.03 503.62 L363.89 503.51 L365.76 503.40 L367.62 503.29 L369.48 503.18 L371.35 503.07 L373.21 502.96 L375.08 502.86 L376.94 502.75 L378.81 502.64 L380.67 502.53 L382.54 502.42 L384.40 502.32 L386.27 502.21 L388.13 502.10 L389.99 502.00 L391.86 501.89 L393.72 501.78 L395.59 501.68 L397.45 501.57 L399.32 501.46 L401.18 501.36 L403.05 501.25 L404.91 501.15 L406.78 501.04 L408.64 500.94 L410.51 500.83 L412.37 500.73 L414.23 500.62 L416.10 500.52 L417.96 500.42 L419.83 500.31 L421.69 500.21 L423.56 500.11 L425.42 500.00 L427.29 499.90 L429.15 499.80 L431.02 499.69 L432.88 499.59 L434.74 499.49 L436.61 499.39 L438.47 499.28 L440.34 499.18 L442.20 499.08 L444.07 498.98 L445.93 498.88 L447.80 498.78 L449.66 498.68 L451.53 498.57 L453.39 498.47 L455.25 498.37 L457.12 498.27 L458.98 498.17 L460.85 498.07 L462.71 497.97 L464.58 497.87 L466.44 497.77 L468.31 497.67 L470.17 497.58 L472.04 497.48 L473.90 497.38 L475.76 497.28 L477.63 497.18 L479.49 497.08 L481.36 496.98 L483.22 496.89 L485.09 496.79 L486.95 496.69 L488.82 496.59 L490.68 496.50 L492.55 496.40 L494.41 496.30 L496.27 496.21 L498.14 496.11 L500.00 496.01 L501.87 495.92 L503.73 495.82 L505.60 495.72 L507.46 495.63 L509.33 495.53 L511.19 495.44 L513.06 495.34 L514.92 495.25 L516.78 495.15 L518.65 495.06 L520.51 494.96 L522.38 494.87 L524.24 494.77 L526.11 494.68 L527.97 494.58 L529.84 494.49 L531.70 494.40 L533.57 494.30 L535.43 494.21 L537.29 494.11 L539.16 494.02 L541.02 493.93 L542.89 493.84 L544.75 493.74 L546.62 493.65 L548.48 493.56 L550.35 493.47 L552.21 493.37 L554.08 493.28 L555.94 493.19 L557.80 493.10 L559.67 493.01 L561.53 492.91 L563.40 492.82 L565.26 492.73 L567.13 492.64 L568.99 492.55 L570.86 492.46 L572.72 492.37 L574.59 492.28 L576.45 492.19 L578.31 492.10 L580.18 492.01 L582.04 491.92 L583.91 491.83 L585.77 491.74 L587.64 491.65 L589.50 491.56 L591.37 491.47 L593.23 491.38 L595.10 491.29 L596.96 491.21 L598.82 491.12 L600.69 491.03 L602.55 490.94 L604.42 490.85 L606.28 490.76 L608.15 490.68 L610.01 490.59 L611.88 490.50 L613.74 490.41 L615.61 490.33 L617.47 490.24 L619.33 490.15 L621.20 490.07 L623.06 489.98 L624.93 489.89 L626.79 489.81 L628.66 489.72 L630.52 489.63 L632.39 489.55 L634.25 489.46 L636.12 489.38 L637.98 489.29 L639.84 489.21 L641.71 489.12 L643.57 489.03 L645.44 488.95 L647.30 488.86 L649.17 488.78 L651.03 488.69 L652.90 488.61 L654.76 488.53 L656.63 488.44 L658.49 488.36 L660.35 488.27 L662.22 488.19 L664.08 488.11 L665.95 488.02 L667.81 487.94 L669.68 487.86 L671.54 487.77 L673.41 487.69 L675.27 487.61 L677.14 487.52 L679.00 487.44" stroke="#000" stroke-width="2.5" stroke-dasharray="11 5 1 5" stroke-dashoffset="-1.4"/>
<path d="M307.33 32.20 L307.63 32.80 L307.92 33.40 L308.21 34.00 L308.51 34.60 L308.80 35.20 L309.09 35.79 L309.39 36.39 L309.68 36.98 L309.98 37.58 L310.28 38.17 L310.57 38.76 L310.87 39.35 L311.17 39.94 L311.47 40.53 L311.77 41.11 L312.07 41.70 L312.37 42.28 L312.67 42.87 L312.97 43.45 L313.27 44.03 L313.57 44.61 L313.87 45.19 L314.17 45.77 L314.48 46.35 L314.78 46.93 L315.08 47.50 L315.39 48.08 L315.69 48.65 L316.00 49.23 L316.31 49.80 L316.61 50.37 L316.92 50.94 L317.23 51.51 L317.53 52.08 L317.84 52.64 L318.15 53.21 L318.46 53.78 L318.77 54.34 L319.08 54.90 L319.39 55.47 L319.70 56.03 L320.01 56.59 L320.33 57.15 L320.64 57.71 L320.95 58.26 L321.27 58.82 L321.58 59.38 L321.90 59.93 L322.21 60.48 L322.53 61.04 L322.84 61.59 L323.16 62.14 L323.48 62.69 L323.79 63.24 L324.11 63.79 L324.43 64.33 L324.75 64.88 L325.07 65.43 L325.39 65.97 L325.71 66.51 L326.03 67.06 L326.35 67.60 L326.68 68.14 L327.00 68.68 L327.32 69.22 L327.65 69.75 L327.97 70.29 L328.29 70.83 L328.62 71.36 L328.95 71.90 L329.27 72.43 L329.60 72.96 L329.93 73.49 L330.25 74.02 L330.58 74.55 L330.91 75.08 L331.24 75.61 L331.57 76.14 L331.90 76.66 L332.23 77.19 L332.56 77.71 L332.90 78.23 L333.23 78.76 L333.56 79.28 L333.89 79.80 L334.23 80.32 L334.56 80.84 L334.90 81.35 L335.23 81.87 L335.57 82.39 L335.91 82.90 L336.24 83.42 L336.58 83.93 L336.92 84.44 L337.26 84.95 L337.60 85.46 L337.94 85.97 L338.28 86.48 L338.62 86.99 L338.96 87.50 L339.30 88.00 L339.65 88.51 L339.99 89.01 L340.33 89.52 L340.68 90.02 L341.02 90.52 L341.37 91.02 L341.71 91.52 L342.06 92.02 L342.41 92.52 L342.75 93.02 L343.10 93.52 L343.45 94.01 L343.80 94.51 L344.15 95.00 L344.50 95.49 L344.85 95.99 L345.20 96.48 L345.55 96.97 L345.91 97.46 L346.26 97.95 L346.61 98.44 L346.97 98.92 L347.32 99.41 L347.68 99.90 L348.03 100.38 L348.39 100.86 L348.74 101.35 L349.10 101.83 L349.46 102.31 L349.82 102.79 L350.18 103.27 L350.54 103.75 L350.90 104.23 L351.26 104.71 L351.62 105.18 L351.98 105.66 L352.34 106.13 L352.71 106.61 L353.07 107.08 L353.44 107.55 L353.80 108.02 L354.17 108.50 L354.53 108.97 L354.90 109.43 L355.27 109.90 L355.63 110.37 L356.00 110.84 L356.37 111.30 L356.74 111.77 L357.11 112.23 L357.48 112.70 L357.85 113.16 L358.22 113.62 L358.60 114.08 L358.97 114.54 L359.34 115.00 L359.72 115.46 L360.09 115.92 L360.47 116.38 L360.84 116.83 L361.22 117.29 L361.60 117.74 L361.97 118.20 L362.35 118.65 L362.73 119.10 L363.11 119.55 L363.49 120.00 L363.87 120.45 L364.25 120.90 L364.63 121.35 L365.02 121.80 L365.40 122.25 L365.78 122.69 L366.17 123.14 L366.55 123.58 L366.94 124.03 L367.32 124.47 L367.71 124.91 L368.10 125.35 L368.48 125.79 L368.87 126.23 L369.26 126.67 L369.65 127.11 L370.04 127.55 L370.43 127.99 L370.82 128.42 L371.22 128.86 L371.61 129.29 L372.00 129.73 L372.40 130.16 L372.79 130.59 L373.19 131.02 L373.58 131.46 L373.98 131.89 L374.38 132.31 L374.77 132.74 L375.17 133.17 L375.57 133.60 L375.97 134.03 L376.37 134.45 L376.77 134.88 L377.17 135.30 L377.58 135.72 L377.98 136.15 L378.38 136.57 L378.79 136.99 L379.19 137.41 L379.60 137.83 L380.00 138.25 L380.41 138.67 L380.82 139.09 L381.22 139.50 L381.63 139.92 L382.04 140.33 L382.45 140.75 L382.86 141.16 L383.27 141.58 L383.69 141.99 L384.10 142.40 L384.51 142.81 L384.92 143.22 L385.34 143.63 L385.75 144.04 L386.17 144.45 L386.59 144.86 L387.00 145.26 L387.42 145.67 L387.84 146.08 L388.26 146.48 L388.68 146.88 L389.10 147.29 L389.52 147.69 L389.94 148.09 L390.36 148.49 L390.78 148.89 L391.21 149.29 L391.63 149.69 L392.06 150.09 L392.48 150.49 L392.91 150.89 L393.34 151.28 L393.76 151.68 L394.19 152.07 L394.62 152.47 L395.05 152.86 L395.48 153.25 L395.91 153.65 L396.34 154.04 L396.78 154.43 L397.21 154.82 L397.64 155.21 L398.08 155.60 L398.51 155.99 L398.95 156.37 L399.38 156.76 L399.82 157.15 L400.26 157.53 L400.70 157.92 L401.14 158.30 L401.58 158.69 L402.02 159.07 L402.46 159.45 L402.90 159.83 L403.34 160.21 L403.79 160.59 L404.23 160.97 L404.67 161.35 L405.12 161.73 L405.57 162.11 L406.01 162.48 L406.46 162.86 L406.91 163.24 L407.36 163.61 L407.81 163.98 L408.26 164.36 L408.71 164.73 L409.16 165.10 L409.61 165.48 L410.07 165.85 L410.52 166.22 L410.97 166.59 L411.43 166.96 L411.89 167.32 L412.34 167.69 L412.80 168.06 L413.26 168.43 L413.72 168.79 L414.18 169.16 L414.64 169.52 L415.10 169.88 L415.56 170.25 L416.02 170.61 L416.49 170.97 L416.95 171.33 L417.41 171.69 L417.88 172.06 L418.35 172.41 L418.81 172.77 L419.28 173.13 L419.75 173.49 L420.22 173.85 L420.69 174.20 L421.16 174.56 L421.63 174.91 L422.10 175.27 L422.58 175.62 L423.05 175.98 L423.52 176.33 L424.00 176.68 L424.47 177.03 L424.95 177.38 L425.43 177.73 L425.91 178.08 L426.38 178.43 L426.86 178.78 L427.34 179.13 L427.83 179.47 L428.31 179.82 L428.79 180.17 L429.27 180.51 L429.76 180.86 L430.24 181.20 L430.73 181.55 L431.21 181.89 L431.70 182.23 L432.19 182.57 L432.68 182.91 L433.17 183.25 L433.66 183.59 L434.15 183.93 L434.64 184.27 L435.13 184.61 L435.63 184.95 L436.12 185.28 L436.62 185.62 L437.11 185.96 L437.61 186.29 L438.10 186.63 L438.60 186.96 L439.10 187.29 L439.60 187.63 L440.10 187.96 L440.60 188.29 L441.10 188.62 L441.61 188.95 L442.11 189.28 L442.61 189.61 L443.12 189.94 L443.63 190.27 L444.13 190.60 L444.64 190.92 L445.15 191.25 L445.66 191.58 L446.17 191.90 L446.68 192.23 L447.19 192.55 L447.70 192.88 L448.21 193.20 L448.73 193.52 L449.24 193.84 L449.76 194.16 L450.28 194.49 L450.79 194.81 L451.31 195.13 L451.83 195.45 L452.35 195.76 L452.87 196.08 L453.39 196.40 L453.91 196.72 L454.44 197.03 L454.96 197.35 L455.48 197.66 L456.01 197.98 L456.53 198.29 L457.06 198.61 L457.59 198.92 L458.12 199.23 L458.65 199.54 L459.18 199.86 L459.71 200.17 L460.24 200.48 L460.77 200.79 L461.31 201.10 L461.84 201.41 L462.38 201.71 L462.91 202.02 L463.45 202.33 L463.99 202.64 L464.53 202.94 L465.07 203.25 L465.61 203.55 L466.15 203.86 L466.69 204.16 L467.23 204.46 L467.78 204.77 L468.32 205.07 L468.87 205.37 L469.41 205.67 L469.96 205.97 L470.51 206.27 L471.06 206.57 L471.61 206.87 L472.16 207.17 L472.71 207.47 L473.26 207.77 L473.82 208.06 L474.37 208.36 L474.93 208.66 L475.48 208.95 L476.04 209.25 L476.60 209.54 L477.15 209.84 L477.71 210.13 L478.27 210.42 L478.84 210.71 L479.40 211.01 L479.96 211.30 L480.52 211.59 L481.09 211.88 L481.65 212.17 L482.22 212.46 L482.79 212.75 L483.36 213.04 L483.93 213.32 L484.50 213.61 L485.07 213.90 L485.64 214.18 L486.21 214.47 L486.78 214.75 L487.36 215.04 L487.93 215.32 L488.51 215.61 L489.09 215.89 L489.67 216.17 L490.25 216.46 L490.83 216.74 L491.41 217.02 L491.99 217.30 L492.57 217.58 L493.16 217.86 L493.74 218.14 L494.33 218.42 L494.91 218.70 L495.50 218.98 L496.09 219.25 L496.68 219.53 L497.27 219.81 L497.86 220.08 L498.45 220.36 L499.04 220.63 L499.64 220.91 L500.23 221.18 L500.83 221.46 L501.42 221.73 L502.02 222.00 L502.62 222.27 L503.22 222.55 L503.82 222.82 L504.42 223.09 L505.02 223.36 L505.63 223.63 L506.23 223.90 L506.84 224.17 L507.44 224.43 L508.05 224.70 L508.66 224.97 L509.27 225.24 L509.88 225.50 L510.49 225.77 L511.10 226.03 L511.71 226.30 L512.33 226.56 L512.94 226.83 L513.56 227.09 L514.17 227.35 L514.79 227.62 L515.41 227.88 L516.03 228.14 L516.65 228.40 L517.27 228.66 L517.89 228.92 L518.52 229.18 L519.14 229.44 L519.77 229.70 L520.39 229.96 L521.02 230.22 L521.65 230.48 L522.28 230.74 L522.91 230.99 L523.54 231.25 L524.17 231.50 L524.81 231.76 L525.44 232.01 L526.08 232.27 L526.71 232.52 L527.35 232.78 L527.99 233.03 L528.63 233.28 L529.27 233.54 L529.91 233.79 L530.55 234.04 L531.19 234.29 L531.84 234.54 L532.48 234.79 L533.13 235.04 L533.78 235.29 L534.43 235.54 L535.08 235.79 L535.73 236.04 L536.38 236.28 L537.03 236.53 L537.68 236.78 L538.34 237.02 L538.99 237.27 L539.65 237.51 L540.31 237.76 L540.97 238.00 L541.63 238.25 L542.29 238.49 L542.95 238.73 L543.61 238.98 L544.28 239.22 L544.94 239.46 L545.61 239.70 L546.28 239.94 L546.94 240.19 L547.61 240.43 L548.28 240.67 L548.95 240.90 L549.63 241.14 L550.30 241.38 L550.97 241.62 L551.65 241.86 L552.33 242.10 L553.00 242.33 L553.68 242.57 L554.36 242.81 L555.04 243.04 L555.73 243.28 L556.41 243.51 L557.09 243.75 L557.78 243.98 L558.46 244.21 L559.15 244.45 L559.84 244.68 L560.53 244.91 L561.22 245.14 L561.91 245.38 L562.60 245.61 L563.30 245.84 L563.99 246.07 L564.69 246.30 L565.39 246.53 L566.08 246.76 L566.78 246.98 L567.48 247.21 L568.19 247.44 L568.89 247.67 L569.59 247.90 L570.30 248.12 L571.00 248.35 L571.71 248.57 L572.42 248.80 L573.13 249.03 L573.84 249.25 L574.55 249.47 L575.26 249.70 L575.97 249.92 L576.69 250.15 L577.41 250.37 L578.12 250.59 L578.84 250.81 L579.56 251.03 L580.28 251.26 L581.00 251.48 L581.73 251.70 L582.45 251.92 L583.17 252.14 L583.90 252.36 L584.63 252.57 L585.36 252.79 L586.09 253.01 L586.82 253.23 L587.55 253.45 L588.28 253.66 L589.02 253.88 L589.75 254.10 L590.49 254.31 L591.23 254.53 L591.96 254.74 L592.70 254.96 L593.45 255.17 L594.19 255.39 L594.93 255.60 L595.68 255.81 L596.42 256.03 L597.17 256.24 L597.92 256.45 L598.67 256.66 L599.42 256.87 L600.17 257.08 L600.92 257.30 L601.68 257.51 L602.43 257.72 L603.19 257.92 L603.94 258.13 L604.70 258.34 L605.46 258.55 L606.23 258.76 L606.99 258.97 L607.75 259.17 L608.52 259.38 L609.28 259.59 L610.05 259.79 L610.82 260.00 L611.59 260.21 L612.36 260.41 L613.13 260.62 L613.90 260.82 L614.68 261.02 L615.45 261.23 L616.23 261.43 L617.01 261.63 L617.79 261.84 L618.57 262.04 L619.35 262.24 L620.13 262.44 L620.92 262.64 L621.70 262.84 L622.49 263.05 L623.28 263.25 L624.07 263.45 L624.86 263.64 L625.65 263.84 L626.44 264.04 L627.24 264.24 L628.03 264.44 L628.83 264.64 L629.63 264.83 L630.43 265.03 L631.23 265.23 L632.03 265.42 L632.83 265.62 L633.64 265.82 L634.44 266.01 L635.25 266.21 L636.06 266.40 L636.87 266.59 L637.68 266.79 L638.49 266.98 L639.30 267.18 L640.12 267.37 L640.93 267.56 L641.75 267.75 L642.57 267.95 L643.39 268.14 L644.21 268.33 L645.03 268.52 L645.85 268.71 L646.68 268.90 L647.50 269.09 L648.33 269.28 L649.16 269.47 L649.99 269.66 L650.82 269.85 L651.65 270.03 L652.49 270.22 L653.32 270.41 L654.16 270.60 L655.00 270.78 L655.84 270.97 L656.68 271.16 L657.52 271.34 L658.36 271.53 L659.21 271.71 L660.05 271.90 L660.90 272.08 L661.75 272.27 L662.60 272.45 L663.45 272.64 L664.30 272.82 L665.16 273.00 L666.01 273.18 L666.87 273.37 L667.72 273.55 L668.58 273.73 L669.44 273.91 L670.31 274.09 L671.17 274.27 L672.03 274.45 L672.90 274.64 L673.77 274.81 L674.64 274.99 L675.51 275.17 L676.38 275.35 L677.25 275.53 L678.12 275.71 L679.00 275.89" stroke="#dd0000" stroke-width="3.6" stroke-dasharray="10.9 11.4" stroke-dashoffset="0.2"/>
<path d="M178.41 32.20 L178.59 33.60 L178.78 35.00 L178.97 36.39 L179.15 37.77 L179.34 39.15 L179.53 40.53 L179.72 41.90 L179.91 43.27 L180.10 44.63 L180.30 45.98 L180.49 47.33 L180.68 48.68 L180.87 50.02 L181.07 51.36 L181.26 52.69 L181.46 54.02 L181.65 55.34 L181.85 56.66 L182.05 57.97 L182.25 59.28 L182.45 60.59 L182.64 61.89 L182.84 63.18 L183.05 64.47 L183.25 65.76 L183.45 67.04 L183.65 68.31 L183.85 69.58 L184.06 70.85 L184.26 72.11 L184.47 73.37 L184.67 74.63 L184.88 75.87 L185.09 77.12 L185.30 78.36 L185.50 79.59 L185.71 80.83 L185.92 82.05 L186.13 83.28 L186.35 84.49 L186.56 85.71 L186.77 86.92 L186.98 88.12 L187.20 89.32 L187.41 90.52 L187.63 91.71 L187.84 92.90 L188.06 94.08 L188.28 95.26 L188.50 96.43 L188.72 97.60 L188.94 98.77 L189.16 99.93 L189.38 101.09 L189.60 102.24 L189.82 103.39 L190.05 104.54 L190.27 105.68 L190.50 106.81 L190.72 107.95 L190.95 109.07 L191.17 110.20 L191.40 111.32 L191.63 112.44 L191.86 113.55 L192.09 114.66 L192.32 115.76 L192.55 116.86 L192.78 117.96 L193.02 119.05 L193.25 120.14 L193.49 121.22 L193.72 122.30 L193.96 123.38 L194.19 124.45 L194.43 125.52 L194.67 126.58 L194.91 127.64 L195.15 128.70 L195.39 129.75 L195.63 130.80 L195.88 131.85 L196.12 132.89 L196.36 133.92 L196.61 134.96 L196.85 135.99 L197.10 137.01 L197.35 138.04 L197.59 139.05 L197.84 140.07 L198.09 141.08 L198.34 142.09 L198.59 143.09 L198.85 144.09 L199.10 145.09 L199.35 146.08 L199.61 147.07 L199.86 148.05 L200.12 149.03 L200.38 150.01 L200.63 150.98 L200.89 151.96 L201.15 152.92 L201.41 153.89 L201.68 154.85 L201.94 155.80 L202.20 156.75 L202.46 157.70 L202.73 158.65 L202.99 159.59 L203.26 160.53 L203.53 161.46 L203.80 162.40 L204.07 163.32 L204.34 164.25 L204.61 165.17 L204.88 166.09 L205.15 167.00 L205.42 167.91 L205.70 168.82 L205.97 169.73 L206.25 170.63 L206.53 171.52 L206.81 172.42 L207.08 173.31 L207.36 174.20 L207.65 175.08 L207.93 175.96 L208.21 176.84 L208.49 177.71 L208.78 178.58 L209.06 179.45 L209.35 180.31 L209.64 181.17 L209.93 182.03 L210.21 182.89 L210.50 183.74 L210.80 184.59 L211.09 185.43 L211.38 186.27 L211.67 187.11 L211.97 187.95 L212.26 188.78 L212.56 189.61 L212.86 190.43 L213.16 191.26 L213.46 192.08 L213.76 192.89 L214.06 193.71 L214.36 194.52 L214.67 195.32 L214.97 196.13 L215.28 196.93 L215.58 197.73 L215.89 198.52 L216.20 199.31 L216.51 200.10 L216.82 200.89 L217.13 201.67 L217.44 202.45 L217.76 203.23 L218.07 204.00 L218.39 204.77 L218.71 205.54 L219.02 206.31 L219.34 207.07 L219.66 207.83 L219.98 208.58 L220.31 209.34 L220.63 210.09 L220.95 210.84 L221.28 211.58 L221.60 212.32 L221.93 213.06 L222.26 213.80 L222.59 214.53 L222.92 215.26 L223.25 215.99 L223.58 216.71 L223.92 217.44 L224.25 218.16 L224.59 218.87 L224.93 219.59 L225.26 220.30 L225.60 221.01 L225.94 221.71 L226.29 222.41 L226.63 223.11 L226.97 223.81 L227.32 224.51 L227.66 225.20 L228.01 225.89 L228.36 226.57 L228.71 227.26 L229.06 227.94 L229.41 228.62 L229.76 229.29 L230.12 229.97 L230.47 230.64 L230.83 231.30 L231.19 231.97 L231.55 232.63 L231.91 233.29 L232.27 233.95 L232.63 234.61 L232.99 235.26 L233.36 235.91 L233.72 236.56 L234.09 237.20 L234.46 237.84 L234.83 238.48 L235.20 239.12 L235.57 239.75 L235.94 240.39 L236.32 241.02 L236.69 241.64 L237.07 242.27 L237.45 242.89 L237.83 243.51 L238.21 244.13 L238.59 244.74 L238.97 245.36 L239.35 245.97 L239.74 246.57 L240.13 247.18 L240.51 247.78 L240.90 248.38 L241.29 248.98 L241.69 249.58 L242.08 250.17 L242.47 250.76 L242.87 251.35 L243.27 251.93 L243.66 252.52 L244.06 253.10 L244.46 253.68 L244.87 254.26 L245.27 254.83 L245.67 255.40 L246.08 255.97 L246.49 256.54 L246.90 257.11 L247.31 257.67 L247.72 258.23 L248.13 258.79 L248.54 259.35 L248.96 259.90 L249.38 260.45 L249.80 261.00 L250.21 261.55 L250.64 262.09 L251.06 262.64 L251.48 263.18 L251.91 263.72 L252.33 264.25 L252.76 264.79 L253.19 265.32 L253.62 265.85 L254.05 266.38 L254.49 266.90 L254.92 267.43 L255.36 267.95 L255.80 268.47 L256.23 268.99 L256.68 269.50 L257.12 270.02 L257.56 270.53 L258.01 271.04 L258.45 271.54 L258.90 272.05 L259.35 272.55 L259.80 273.05 L260.25 273.55 L260.71 274.05 L261.16 274.54 L261.62 275.03 L262.08 275.52 L262.54 276.01 L263.00 276.50 L263.46 276.98 L263.92 277.47 L264.39 277.95 L264.86 278.42 L265.33 278.90 L265.80 279.38 L266.27 279.85 L266.74 280.32 L267.22 280.79 L267.69 281.25 L268.17 281.72 L268.65 282.18 L269.13 282.64 L269.61 283.10 L270.10 283.56 L270.58 284.01 L271.07 284.47 L271.56 284.92 L272.05 285.37 L272.54 285.82 L273.04 286.26 L273.53 286.71 L274.03 287.15 L274.53 287.59 L275.03 288.03 L275.53 288.47 L276.04 288.90 L276.54 289.33 L277.05 289.76 L277.56 290.19 L278.07 290.62 L278.58 291.05 L279.09 291.47 L279.61 291.89 L280.12 292.31 L280.64 292.73 L281.16 293.15 L281.69 293.57 L282.21 293.98 L282.74 294.39 L283.26 294.80 L283.79 295.21 L284.32 295.62 L284.85 296.02 L285.39 296.42 L285.92 296.83 L286.46 297.22 L287.00 297.62 L287.54 298.02 L288.09 298.41 L288.63 298.81 L289.18 299.20 L289.73 299.59 L290.28 299.98 L290.83 300.36 L291.38 300.75 L291.94 301.13 L292.49 301.51 L293.05 301.89 L293.61 302.27 L294.18 302.65 L294.74 303.02 L295.31 303.39 L295.88 303.77 L296.45 304.14 L297.02 304.50 L297.59 304.87 L298.17 305.24 L298.75 305.60 L299.33 305.96 L299.91 306.32 L300.49 306.68 L301.08 307.04 L301.66 307.40 L302.25 307.75 L302.84 308.10 L303.44 308.46 L304.03 308.81 L304.63 309.15 L305.23 309.50 L305.83 309.85 L306.43 310.19 L307.04 310.53 L307.64 310.87 L308.25 311.21 L308.86 311.55 L309.47 311.89 L310.09 312.22 L310.71 312.56 L311.32 312.89 L311.95 313.22 L312.57 313.55 L313.19 313.88 L313.82 314.20 L314.45 314.53 L315.08 314.85 L315.71 315.17 L316.35 315.49 L316.99 315.81 L317.62 316.13 L318.27 316.45 L318.91 316.76 L319.55 317.08 L320.20 317.39 L320.85 317.70 L321.50 318.01 L322.16 318.32 L322.81 318.62 L323.47 318.93 L324.13 319.23 L324.80 319.54 L325.46 319.84 L326.13 320.14 L326.80 320.44 L327.47 320.73 L328.14 321.03 L328.82 321.33 L329.50 321.62 L330.18 321.91 L330.86 322.20 L331.54 322.49 L332.23 322.78 L332.92 323.07 L333.61 323.35 L334.30 323.64 L335.00 323.92 L335.70 324.20 L336.40 324.48 L337.10 324.76 L337.81 325.04 L338.51 325.32 L339.22 325.59 L339.93 325.87 L340.65 326.14 L341.37 326.41 L342.08 326.68 L342.81 326.95 L343.53 327.22 L344.26 327.49 L344.98 327.76 L345.71 328.02 L346.45 328.28 L347.18 328.55 L347.92 328.81 L348.66 329.07 L349.40 329.33 L350.15 329.58 L350.90 329.84 L351.65 330.10 L352.40 330.35 L353.16 330.60 L353.91 330.85 L354.67 331.10 L355.44 331.35 L356.20 331.60 L356.97 331.85 L357.74 332.10 L358.51 332.34 L359.29 332.59 L360.06 332.83 L360.84 333.07 L361.63 333.31 L362.41 333.55 L363.20 333.79 L363.99 334.03 L364.78 334.26 L365.58 334.50 L366.38 334.73 L367.18 334.96 L367.98 335.20 L368.79 335.43 L369.59 335.66 L370.41 335.88 L371.22 336.11 L372.04 336.34 L372.86 336.56 L373.68 336.79 L374.50 337.01 L375.33 337.23 L376.16 337.46 L376.99 337.68 L377.83 337.90 L378.67 338.11 L379.51 338.33 L380.35 338.55 L381.20 338.76 L382.05 338.98 L382.90 339.19 L383.75 339.40 L384.61 339.61 L385.47 339.82 L386.33 340.03 L387.20 340.24 L388.07 340.45 L388.94 340.66 L389.82 340.86 L390.69 341.07 L391.57 341.27 L392.46 341.47 L393.34 341.67 L394.23 341.87 L395.12 342.07 L396.02 342.27 L396.92 342.47 L397.82 342.67 L398.72 342.86 L399.63 343.06 L400.54 343.25 L401.45 343.45 L402.36 343.64 L403.28 343.83 L404.20 344.02 L405.13 344.21 L406.06 344.40 L406.99 344.59 L407.92 344.77 L408.86 344.96 L409.80 345.14 L410.74 345.33 L411.68 345.51 L412.63 345.69 L413.59 345.88 L414.54 346.06 L415.50 346.24 L416.46 346.42 L417.42 346.59 L418.39 346.77 L419.36 346.95 L420.34 347.12 L421.31 347.30 L422.29 347.47 L423.28 347.65 L424.27 347.82 L425.26 347.99 L426.25 348.16 L427.25 348.33 L428.25 348.50 L429.25 348.67 L430.25 348.83 L431.26 349.00 L432.28 349.17 L433.29 349.33 L434.31 349.50 L435.34 349.66 L436.36 349.82 L437.39 349.98 L438.42 350.14 L439.46 350.30 L440.50 350.46 L441.54 350.62 L442.59 350.78 L443.64 350.94 L444.69 351.09 L445.75 351.25 L446.81 351.40 L447.88 351.56 L448.94 351.71 L450.01 351.87 L451.09 352.02 L452.17 352.17 L453.25 352.32 L454.33 352.47 L455.42 352.62 L456.51 352.77 L457.61 352.91 L458.71 353.06 L459.81 353.21 L460.92 353.35 L462.03 353.50 L463.14 353.64 L464.26 353.78 L465.38 353.93 L466.50 354.07 L467.63 354.21 L468.76 354.35 L469.90 354.49 L471.04 354.63 L472.18 354.77 L473.33 354.90 L474.48 355.04 L475.63 355.18 L476.79 355.31 L477.95 355.45 L479.12 355.58 L480.29 355.71 L481.46 355.85 L482.64 355.98 L483.82 356.11 L485.00 356.24 L486.19 356.37 L487.38 356.50 L488.58 356.63 L489.78 356.76 L490.98 356.89 L492.19 357.01 L493.40 357.14 L494.62 357.27 L495.84 357.39 L497.06 357.52 L498.29 357.64 L499.52 357.76 L500.76 357.89 L502.00 358.01 L503.25 358.13 L504.49 358.25 L505.75 358.37 L507.00 358.49 L508.26 358.61 L509.53 358.73 L510.80 358.85 L512.07 358.96 L513.35 359.08 L514.63 359.20 L515.91 359.31 L517.20 359.43 L518.50 359.54 L519.80 359.66 L521.10 359.77 L522.41 359.88 L523.72 359.99 L525.03 360.11 L526.35 360.22 L527.67 360.33 L529.00 360.44 L530.34 360.55 L531.67 360.65 L533.01 360.76 L534.36 360.87 L535.71 360.98 L537.06 361.08 L538.42 361.19 L539.79 361.29 L541.15 361.40 L542.53 361.50 L543.90 361.61 L545.28 361.71 L546.67 361.81 L548.06 361.92 L549.46 362.02 L550.86 362.12 L552.26 362.22 L553.67 362.32 L555.08 362.42 L556.50 362.52 L557.92 362.62 L559.35 362.72 L560.78 362.81 L562.22 362.91 L563.66 363.01 L565.10 363.10 L566.55 363.20 L568.01 363.29 L569.47 363.39 L570.93 363.48 L572.40 363.58 L573.88 363.67 L575.36 363.76 L576.84 363.85 L578.33 363.95 L579.83 364.04 L581.32 364.13 L582.83 364.22 L584.34 364.31 L585.85 364.40 L587.37 364.49 L588.89 364.57 L590.42 364.66 L591.95 364.75 L593.49 364.84 L595.04 364.92 L596.58 365.01 L598.14 365.10 L599.70 365.18 L601.26 365.27 L602.83 365.35 L604.40 365.43 L605.98 365.52 L607.57 365.60 L609.16 365.68 L610.75 365.77 L612.35 365.85 L613.95 365.93 L615.57 366.01 L617.18 366.09 L618.80 366.17 L620.43 366.25 L622.06 366.33 L623.70 366.41 L625.34 366.49 L626.99 366.56 L628.64 366.64 L630.30 366.72 L631.96 366.80 L633.63 366.87 L635.31 366.95 L636.99 367.02 L638.67 367.10 L640.36 367.17 L642.06 367.25 L643.76 367.32 L645.47 367.39 L647.18 367.47 L648.90 367.54 L650.63 367.61 L652.36 367.69 L654.09 367.76 L655.83 367.83 L657.58 367.90 L659.33 367.97 L661.09 368.04 L662.86 368.11 L664.63 368.18 L666.40 368.25 L668.19 368.32 L669.97 368.38 L671.77 368.45 L673.57 368.52 L675.37 368.59 L677.18 368.65 L679.00 368.72" stroke="#dd0000" stroke-width="3.6" stroke-dasharray="10.9 11.4" stroke-dashoffset="0.2"/>
<path d="M137.80 32.20 L137.89 34.55 L137.97 36.88 L138.05 39.21 L138.14 41.52 L138.22 43.82 L138.31 46.10 L138.39 48.38 L138.48 50.64 L138.56 52.89 L138.65 55.13 L138.74 57.36 L138.82 59.57 L138.91 61.77 L139.00 63.97 L139.09 66.15 L139.18 68.32 L139.27 70.47 L139.36 72.62 L139.45 74.75 L139.54 76.88 L139.63 78.99 L139.72 81.09 L139.81 83.18 L139.91 85.26 L140.00 87.33 L140.09 89.39 L140.19 91.43 L140.28 93.47 L140.38 95.49 L140.47 97.51 L140.57 99.51 L140.67 101.50 L140.76 103.48 L140.86 105.45 L140.96 107.41 L141.06 109.37 L141.16 111.31 L141.26 113.23 L141.36 115.15 L141.46 117.06 L141.56 118.96 L141.66 120.85 L141.76 122.73 L141.86 124.60 L141.97 126.46 L142.07 128.31 L142.17 130.15 L142.28 131.97 L142.38 133.79 L142.49 135.60 L142.60 137.40 L142.70 139.19 L142.81 140.97 L142.92 142.74 L143.03 144.51 L143.14 146.26 L143.25 148.00 L143.36 149.73 L143.47 151.46 L143.58 153.17 L143.69 154.88 L143.80 156.57 L143.92 158.26 L144.03 159.94 L144.14 161.61 L144.26 163.27 L144.37 164.92 L144.49 166.56 L144.61 168.19 L144.72 169.82 L144.84 171.43 L144.96 173.04 L145.08 174.64 L145.20 176.22 L145.32 177.81 L145.44 179.38 L145.56 180.94 L145.68 182.50 L145.80 184.04 L145.93 185.58 L146.05 187.11 L146.17 188.63 L146.30 190.14 L146.43 191.65 L146.55 193.14 L146.68 194.63 L146.81 196.11 L146.93 197.58 L147.06 199.05 L147.19 200.50 L147.32 201.95 L147.45 203.39 L147.58 204.82 L147.72 206.25 L147.85 207.66 L147.98 209.07 L148.12 210.47 L148.25 211.86 L148.39 213.25 L148.52 214.63 L148.66 216.00 L148.80 217.36 L148.94 218.71 L149.08 220.06 L149.22 221.40 L149.36 222.73 L149.50 224.06 L149.64 225.37 L149.78 226.68 L149.92 227.99 L150.07 229.28 L150.21 230.57 L150.36 231.85 L150.51 233.13 L150.65 234.39 L150.80 235.65 L150.95 236.90 L151.10 238.15 L151.25 239.39 L151.40 240.62 L151.55 241.84 L151.70 243.06 L151.85 244.27 L152.01 245.48 L152.16 246.67 L152.32 247.86 L152.47 249.05 L152.63 250.22 L152.79 251.40 L152.95 252.56 L153.11 253.72 L153.27 254.87 L153.43 256.01 L153.59 257.15 L153.75 258.28 L153.92 259.40 L154.08 260.52 L154.24 261.63 L154.41 262.74 L154.58 263.84 L154.74 264.93 L154.91 266.01 L155.08 267.09 L155.25 268.17 L155.42 269.24 L155.60 270.30 L155.77 271.35 L155.94 272.40 L156.12 273.45 L156.29 274.48 L156.47 275.51 L156.65 276.54 L156.82 277.56 L157.00 278.57 L157.18 279.58 L157.36 280.58 L157.54 281.57 L157.73 282.56 L157.91 283.55 L158.09 284.53 L158.28 285.50 L158.47 286.46 L158.65 287.43 L158.84 288.38 L159.03 289.33 L159.22 290.27 L159.41 291.21 L159.60 292.15 L159.80 293.07 L159.99 294.00 L160.19 294.91 L160.38 295.82 L160.58 296.73 L160.78 297.63 L160.98 298.52 L161.18 299.41 L161.38 300.30 L161.58 301.17 L161.78 302.05 L161.99 302.92 L162.19 303.78 L162.40 304.64 L162.60 305.49 L162.81 306.34 L163.02 307.18 L163.23 308.02 L163.44 308.85 L163.66 309.68 L163.87 310.50 L164.08 311.31 L164.30 312.13 L164.52 312.93 L164.74 313.74 L164.95 314.53 L165.17 315.32 L165.40 316.11 L165.62 316.89 L165.84 317.67 L166.07 318.44 L166.29 319.21 L166.52 319.98 L166.75 320.73 L166.98 321.49 L167.21 322.24 L167.44 322.98 L167.67 323.72 L167.90 324.46 L168.14 325.19 L168.38 325.91 L168.61 326.63 L168.85 327.35 L169.09 328.06 L169.33 328.77 L169.58 329.47 L169.82 330.17 L170.06 330.87 L170.31 331.56 L170.56 332.24 L170.81 332.92 L171.06 333.60 L171.31 334.27 L171.56 334.94 L171.81 335.61 L172.07 336.27 L172.32 336.92 L172.58 337.57 L172.84 338.22 L173.10 338.86 L173.36 339.50 L173.62 340.13 L173.89 340.76 L174.15 341.39 L174.42 342.01 L174.69 342.63 L174.96 343.24 L175.23 343.85 L175.50 344.46 L175.77 345.06 L176.05 345.66 L176.32 346.25 L176.60 346.84 L176.88 347.43 L177.16 348.01 L177.44 348.59 L177.73 349.16 L178.01 349.73 L178.30 350.30 L178.59 350.86 L178.88 351.42 L179.17 351.97 L179.46 352.53 L179.75 353.07 L180.05 353.62 L180.34 354.16 L180.64 354.69 L180.94 355.23 L181.24 355.75 L181.55 356.28 L181.85 356.80 L182.16 357.32 L182.46 357.83 L182.77 358.35 L183.08 358.85 L183.39 359.36 L183.71 359.86 L184.02 360.35 L184.34 360.85 L184.66 361.34 L184.98 361.82 L185.30 362.30 L185.62 362.78 L185.95 363.26 L186.27 363.73 L186.60 364.20 L186.93 364.67 L187.26 365.13 L187.60 365.59 L187.93 366.04 L188.27 366.50 L188.61 366.95 L188.95 367.39 L189.29 367.83 L189.63 368.27 L189.98 368.71 L190.32 369.14 L190.67 369.57 L191.02 370.00 L191.37 370.42 L191.73 370.84 L192.08 371.26 L192.44 371.67 L192.80 372.08 L193.16 372.49 L193.52 372.89 L193.89 373.30 L194.26 373.69 L194.62 374.09 L195.00 374.48 L195.37 374.87 L195.74 375.26 L196.12 375.64 L196.50 376.02 L196.88 376.40 L197.26 376.77 L197.64 377.15 L198.03 377.51 L198.41 377.88 L198.80 378.24 L199.20 378.60 L199.59 378.96 L199.98 379.31 L200.38 379.67 L200.78 380.01 L201.18 380.36 L201.59 380.70 L201.99 381.04 L202.40 381.38 L202.81 381.72 L203.22 382.05 L203.64 382.38 L204.05 382.70 L204.47 383.03 L204.89 383.35 L205.31 383.67 L205.74 383.98 L206.16 384.30 L206.59 384.61 L207.02 384.92 L207.46 385.22 L207.89 385.52 L208.33 385.82 L208.77 386.12 L209.21 386.42 L209.66 386.71 L210.10 387.00 L210.55 387.29 L211.00 387.57 L211.46 387.86 L211.91 388.14 L212.37 388.41 L212.83 388.69 L213.29 388.96 L213.76 389.23 L214.23 389.50 L214.70 389.77 L215.17 390.03 L215.64 390.29 L216.12 390.55 L216.60 390.80 L217.08 391.06 L217.57 391.31 L218.05 391.56 L218.54 391.81 L219.03 392.05 L219.53 392.29 L220.02 392.53 L220.52 392.77 L221.02 393.01 L221.53 393.24 L222.03 393.47 L222.54 393.70 L223.06 393.93 L223.57 394.15 L224.09 394.37 L224.61 394.59 L225.13 394.81 L225.65 395.03 L226.18 395.24 L226.71 395.45 L227.25 395.66 L227.78 395.87 L228.32 396.07 L228.86 396.28 L229.40 396.48 L229.95 396.68 L230.50 396.87 L231.05 397.07 L231.61 397.26 L232.17 397.45 L232.73 397.64 L233.29 397.83 L233.86 398.01 L234.42 398.19 L235.00 398.38 L235.57 398.55 L236.15 398.73 L236.73 398.91 L237.31 399.08 L237.90 399.25 L238.49 399.42 L239.08 399.59 L239.68 399.75 L240.28 399.92 L240.88 400.08 L241.48 400.24 L242.09 400.40 L242.70 400.55 L243.32 400.71 L243.93 400.86 L244.55 401.01 L245.18 401.16 L245.80 401.31 L246.43 401.46 L247.07 401.60 L247.70 401.74 L248.34 401.88 L248.98 402.02 L249.63 402.16 L250.28 402.29 L250.93 402.43 L251.59 402.56 L252.25 402.69 L252.91 402.82 L253.57 402.94 L254.24 403.07 L254.92 403.19 L255.59 403.32 L256.27 403.44 L256.95 403.56 L257.64 403.67 L258.33 403.79 L259.02 403.90 L259.72 404.01 L260.42 404.13 L261.12 404.23 L261.83 404.34 L262.54 404.45 L263.26 404.55 L263.97 404.66 L264.70 404.76 L265.42 404.86 L266.15 404.96 L266.88 405.05 L267.62 405.15 L268.36 405.24 L269.10 405.34 L269.85 405.43 L270.60 405.52 L271.36 405.61 L272.12 405.70 L272.88 405.78 L273.65 405.87 L274.42 405.95 L275.19 406.03 L275.97 406.11 L276.75 406.19 L277.54 406.27 L278.33 406.34 L279.12 406.42 L279.92 406.49 L280.73 406.56 L281.53 406.63 L282.34 406.70 L283.16 406.77 L283.98 406.84 L284.80 406.90 L285.63 406.97 L286.46 407.03 L287.29 407.09 L288.13 407.15 L288.98 407.21 L289.83 407.27 L290.68 407.33 L291.54 407.38 L292.40 407.44 L293.26 407.49 L294.13 407.54 L295.01 407.60 L295.89 407.65 L296.77 407.69 L297.66 407.74 L298.55 407.79 L299.45 407.83 L300.35 407.88 L301.26 407.92 L302.17 407.96 L303.08 408.00 L304.00 408.04 L304.93 408.08 L305.85 408.12 L306.79 408.15 L307.73 408.19 L308.67 408.22 L309.62 408.26 L310.57 408.29 L311.53 408.32 L312.49 408.35 L313.46 408.38 L314.43 408.41 L315.41 408.43 L316.39 408.46 L317.38 408.49 L318.37 408.51 L319.37 408.53 L320.37 408.55 L321.38 408.58 L322.39 408.60 L323.41 408.61 L324.43 408.63 L325.46 408.65 L326.49 408.67 L327.53 408.68 L328.57 408.70 L329.62 408.71 L330.68 408.72 L331.74 408.73 L332.80 408.75 L333.87 408.76 L334.95 408.76 L336.03 408.77 L337.12 408.78 L338.21 408.79 L339.31 408.79 L340.41 408.80 L341.52 408.80 L342.63 408.80 L343.75 408.81 L344.88 408.81 L346.01 408.81 L347.15 408.81 L348.29 408.81 L349.44 408.81 L350.60 408.80 L351.76 408.80 L352.92 408.80 L354.09 408.79 L355.27 408.79 L356.46 408.78 L357.65 408.77 L358.84 408.77 L360.05 408.76 L361.25 408.75 L362.47 408.74 L363.69 408.73 L364.92 408.72 L366.15 408.71 L367.39 408.69 L368.63 408.68 L369.89 408.67 L371.14 408.65 L372.41 408.64 L373.68 408.62 L374.96 408.60 L376.24 408.59 L377.53 408.57 L378.83 408.55 L380.13 408.53 L381.44 408.51 L382.76 408.49 L384.08 408.47 L385.41 408.45 L386.75 408.42 L388.09 408.40 L389.44 408.38 L390.80 408.35 L392.17 408.33 L393.54 408.30 L394.92 408.28 L396.30 408.25 L397.69 408.23 L399.09 408.20 L400.50 408.17 L401.91 408.14 L403.33 408.11 L404.76 408.08 L406.19 408.05 L407.64 408.02 L409.09 407.99 L410.54 407.96 L412.01 407.93 L413.48 407.89 L414.96 407.86 L416.44 407.83 L417.94 407.79 L419.44 407.76 L420.95 407.72 L422.47 407.69 L423.99 407.65 L425.52 407.62 L427.06 407.58 L428.61 407.54 L430.17 407.50 L431.73 407.47 L433.30 407.43 L434.88 407.39 L436.47 407.35 L438.07 407.31 L439.67 407.27 L441.28 407.23 L442.90 407.19 L444.53 407.15 L446.16 407.10 L447.81 407.06 L449.46 407.02 L451.12 406.98 L452.79 406.93 L454.47 406.89 L456.16 406.84 L457.85 406.80 L459.56 406.76 L461.27 406.71 L462.99 406.66 L464.72 406.62 L466.46 406.57 L468.21 406.53 L469.96 406.48 L471.73 406.43 L473.50 406.38 L475.29 406.34 L477.08 406.29 L478.88 406.24 L480.69 406.19 L482.51 406.14 L484.34 406.09 L486.18 406.04 L488.02 405.99 L489.88 405.94 L491.75 405.89 L493.62 405.84 L495.51 405.79 L497.40 405.74 L499.31 405.69 L501.22 405.64 L503.14 405.58 L505.08 405.53 L507.02 405.48 L508.97 405.43 L510.94 405.37 L512.91 405.32 L514.89 405.27 L516.88 405.21 L518.89 405.16 L520.90 405.10 L522.92 405.05 L524.96 405.00 L527.00 404.94 L529.06 404.89 L531.12 404.83 L533.20 404.78 L535.28 404.72 L537.38 404.66 L539.48 404.61 L541.60 404.55 L543.73 404.50 L545.87 404.44 L548.02 404.38 L550.18 404.33 L552.35 404.27 L554.53 404.21 L556.73 404.15 L558.93 404.10 L561.15 404.04 L563.37 403.98 L565.61 403.92 L567.86 403.87 L570.12 403.81 L572.40 403.75 L574.68 403.69 L576.98 403.63 L579.28 403.57 L581.60 403.51 L583.93 403.45 L586.28 403.40 L588.63 403.34 L591.00 403.28 L593.38 403.22 L595.77 403.16 L598.17 403.10 L600.58 403.04 L603.01 402.98 L605.45 402.92 L607.90 402.86 L610.36 402.80 L612.84 402.74 L615.33 402.68 L617.83 402.62 L620.35 402.56 L622.87 402.50 L625.41 402.44 L627.97 402.38 L630.53 402.31 L633.11 402.25 L635.70 402.19 L638.31 402.13 L640.92 402.07 L643.56 402.01 L646.20 401.95 L648.86 401.89 L651.53 401.83 L654.21 401.77 L656.91 401.70 L659.63 401.64 L662.35 401.58 L665.09 401.52 L667.84 401.46 L670.61 401.40 L673.39 401.34 L676.19 401.27 L679.00 401.21" stroke="#dd0000" stroke-width="3.6" stroke-dasharray="10.9 11.4" stroke-dashoffset="0.2"/>
<path d="M126.85 32.20 L126.89 35.38 L126.92 38.53 L126.96 41.67 L127.00 44.78 L127.03 47.88 L127.07 50.95 L127.11 54.00 L127.14 57.03 L127.18 60.04 L127.22 63.03 L127.26 66.00 L127.30 68.95 L127.34 71.88 L127.37 74.79 L127.41 77.68 L127.45 80.55 L127.49 83.40 L127.53 86.24 L127.57 89.05 L127.61 91.84 L127.65 94.62 L127.70 97.38 L127.74 100.11 L127.78 102.83 L127.82 105.53 L127.86 108.22 L127.90 110.88 L127.95 113.53 L127.99 116.16 L128.03 118.77 L128.08 121.36 L128.12 123.94 L128.16 126.50 L128.21 129.04 L128.25 131.56 L128.30 134.07 L128.34 136.56 L128.39 139.03 L128.44 141.49 L128.48 143.93 L128.53 146.35 L128.58 148.75 L128.62 151.14 L128.67 153.52 L128.72 155.88 L128.77 158.22 L128.81 160.54 L128.86 162.85 L128.91 165.15 L128.96 167.42 L129.01 169.69 L129.06 171.93 L129.11 174.17 L129.16 176.38 L129.21 178.58 L129.27 180.77 L129.32 182.94 L129.37 185.10 L129.42 187.24 L129.48 189.37 L129.53 191.48 L129.58 193.58 L129.64 195.66 L129.69 197.73 L129.74 199.79 L129.80 201.83 L129.85 203.86 L129.91 205.87 L129.97 207.87 L130.02 209.86 L130.08 211.83 L130.14 213.79 L130.19 215.73 L130.25 217.67 L130.31 219.58 L130.37 221.49 L130.43 223.38 L130.49 225.26 L130.55 227.13 L130.61 228.98 L130.67 230.82 L130.73 232.65 L130.79 234.47 L130.85 236.27 L130.92 238.06 L130.98 239.84 L131.04 241.60 L131.11 243.35 L131.17 245.10 L131.23 246.82 L131.30 248.54 L131.37 250.25 L131.43 251.94 L131.50 253.62 L131.56 255.29 L131.63 256.95 L131.70 258.60 L131.77 260.23 L131.84 261.85 L131.90 263.47 L131.97 265.07 L132.04 266.66 L132.11 268.24 L132.18 269.80 L132.26 271.36 L132.33 272.91 L132.40 274.44 L132.47 275.97 L132.55 277.48 L132.62 278.98 L132.69 280.47 L132.77 281.96 L132.84 283.43 L132.92 284.89 L132.99 286.34 L133.07 287.78 L133.15 289.21 L133.23 290.63 L133.30 292.04 L133.38 293.44 L133.46 294.83 L133.54 296.21 L133.62 297.58 L133.70 298.94 L133.78 300.29 L133.87 301.63 L133.95 302.97 L134.03 304.29 L134.12 305.60 L134.20 306.91 L134.28 308.20 L134.37 309.48 L134.46 310.76 L134.54 312.03 L134.63 313.28 L134.72 314.53 L134.80 315.77 L134.89 317.00 L134.98 318.22 L135.07 319.44 L135.16 320.64 L135.25 321.84 L135.35 323.02 L135.44 324.20 L135.53 325.37 L135.62 326.53 L135.72 327.69 L135.81 328.83 L135.91 329.97 L136.01 331.09 L136.10 332.21 L136.20 333.32 L136.30 334.43 L136.40 335.52 L136.50 336.61 L136.60 337.69 L136.70 338.76 L136.80 339.82 L136.90 340.88 L137.00 341.93 L137.11 342.97 L137.21 344.00 L137.31 345.02 L137.42 346.04 L137.53 347.05 L137.63 348.05 L137.74 349.05 L137.85 350.03 L137.96 351.01 L138.07 351.98 L138.18 352.95 L138.29 353.91 L138.40 354.86 L138.51 355.80 L138.63 356.74 L138.74 357.67 L138.86 358.59 L138.97 359.50 L139.09 360.41 L139.21 361.31 L139.32 362.21 L139.44 363.09 L139.56 363.98 L139.68 364.85 L139.80 365.72 L139.93 366.58 L140.05 367.43 L140.17 368.28 L140.30 369.12 L140.42 369.96 L140.55 370.78 L140.68 371.60 L140.80 372.42 L140.93 373.23 L141.06 374.03 L141.19 374.83 L141.32 375.62 L141.46 376.40 L141.59 377.18 L141.72 377.95 L141.86 378.72 L141.99 379.48 L142.13 380.23 L142.27 380.98 L142.41 381.72 L142.55 382.45 L142.69 383.18 L142.83 383.91 L142.97 384.63 L143.11 385.34 L143.26 386.04 L143.40 386.75 L143.55 387.44 L143.70 388.13 L143.84 388.81 L143.99 389.49 L144.14 390.17 L144.29 390.83 L144.45 391.49 L144.60 392.15 L144.75 392.80 L144.91 393.45 L145.06 394.09 L145.22 394.72 L145.38 395.35 L145.54 395.98 L145.70 396.59 L145.86 397.21 L146.02 397.82 L146.19 398.42 L146.35 399.02 L146.52 399.61 L146.68 400.20 L146.85 400.78 L147.02 401.36 L147.19 401.93 L147.36 402.50 L147.53 403.07 L147.71 403.62 L147.88 404.18 L148.06 404.73 L148.24 405.27 L148.41 405.81 L148.59 406.34 L148.77 406.87 L148.96 407.40 L149.14 407.92 L149.32 408.44 L149.51 408.95 L149.70 409.45 L149.88 409.95 L150.07 410.45 L150.26 410.94 L150.46 411.43 L150.65 411.92 L150.84 412.40 L151.04 412.87 L151.24 413.34 L151.43 413.81 L151.63 414.27 L151.83 414.73 L152.04 415.18 L152.24 415.63 L152.45 416.07 L152.65 416.51 L152.86 416.95 L153.07 417.38 L153.28 417.81 L153.49 418.23 L153.70 418.65 L153.92 419.07 L154.14 419.48 L154.35 419.89 L154.57 420.29 L154.79 420.69 L155.01 421.09 L155.24 421.48 L155.46 421.87 L155.69 422.25 L155.92 422.63 L156.15 423.00 L156.38 423.38 L156.61 423.74 L156.84 424.11 L157.08 424.47 L157.32 424.83 L157.56 425.18 L157.80 425.53 L158.04 425.87 L158.28 426.22 L158.53 426.55 L158.77 426.89 L159.02 427.22 L159.27 427.55 L159.53 427.87 L159.78 428.19 L160.03 428.51 L160.29 428.82 L160.55 429.13 L160.81 429.43 L161.07 429.74 L161.34 430.04 L161.60 430.33 L161.87 430.62 L162.14 430.91 L162.41 431.20 L162.68 431.48 L162.96 431.76 L163.23 432.03 L163.51 432.30 L163.79 432.57 L164.07 432.84 L164.36 433.10 L164.64 433.36 L164.93 433.61 L165.22 433.87 L165.51 434.12 L165.81 434.36 L166.10 434.60 L166.40 434.84 L166.70 435.08 L167.00 435.31 L167.30 435.54 L167.61 435.77 L167.92 435.99 L168.23 436.22 L168.54 436.43 L168.85 436.65 L169.17 436.86 L169.49 437.07 L169.81 437.28 L170.13 437.48 L170.45 437.68 L170.78 437.88 L171.11 438.07 L171.44 438.26 L171.77 438.45 L172.11 438.64 L172.44 438.82 L172.78 439.00 L173.12 439.18 L173.47 439.35 L173.82 439.52 L174.16 439.69 L174.52 439.86 L174.87 440.02 L175.23 440.18 L175.58 440.34 L175.94 440.49 L176.31 440.64 L176.67 440.79 L177.04 440.94 L177.41 441.09 L177.78 441.23 L178.16 441.37 L178.54 441.50 L178.92 441.64 L179.30 441.77 L179.69 441.90 L180.07 442.02 L180.46 442.15 L180.86 442.27 L181.25 442.39 L181.65 442.50 L182.05 442.62 L182.46 442.73 L182.86 442.84 L183.27 442.94 L183.68 443.05 L184.10 443.15 L184.52 443.25 L184.94 443.35 L185.36 443.44 L185.79 443.53 L186.21 443.62 L186.65 443.71 L187.08 443.79 L187.52 443.88 L187.96 443.96 L188.40 444.03 L188.85 444.11 L189.30 444.18 L189.75 444.26 L190.20 444.32 L190.66 444.39 L191.12 444.46 L191.59 444.52 L192.05 444.58 L192.53 444.64 L193.00 444.69 L193.48 444.75 L193.96 444.80 L194.44 444.85 L194.93 444.89 L195.41 444.94 L195.91 444.98 L196.40 445.02 L196.90 445.06 L197.41 445.10 L197.91 445.14 L198.42 445.17 L198.94 445.20 L199.45 445.23 L199.97 445.26 L200.49 445.28 L201.02 445.30 L201.55 445.32 L202.09 445.34 L202.62 445.36 L203.16 445.38 L203.71 445.39 L204.26 445.40 L204.81 445.41 L205.36 445.42 L205.92 445.42 L206.49 445.43 L207.05 445.43 L207.62 445.43 L208.20 445.43 L208.78 445.43 L209.36 445.42 L209.94 445.41 L210.53 445.41 L211.13 445.39 L211.73 445.38 L212.33 445.37 L212.93 445.35 L213.54 445.34 L214.16 445.32 L214.77 445.30 L215.40 445.27 L216.02 445.25 L216.65 445.22 L217.29 445.20 L217.93 445.17 L218.57 445.14 L219.22 445.10 L219.87 445.07 L220.52 445.04 L221.18 445.00 L221.85 444.96 L222.52 444.92 L223.19 444.88 L223.87 444.84 L224.55 444.79 L225.24 444.74 L225.93 444.70 L226.63 444.65 L227.33 444.60 L228.04 444.54 L228.75 444.49 L229.46 444.44 L230.18 444.38 L230.91 444.32 L231.64 444.26 L232.37 444.20 L233.11 444.14 L233.85 444.08 L234.60 444.01 L235.36 443.94 L236.12 443.88 L236.88 443.81 L237.65 443.74 L238.42 443.67 L239.20 443.59 L239.99 443.52 L240.78 443.44 L241.57 443.37 L242.38 443.29 L243.18 443.21 L243.99 443.13 L244.81 443.05 L245.63 442.96 L246.46 442.88 L247.29 442.79 L248.13 442.71 L248.98 442.62 L249.83 442.53 L250.68 442.44 L251.54 442.35 L252.41 442.26 L253.28 442.16 L254.16 442.07 L255.05 441.97 L255.94 441.87 L256.83 441.78 L257.74 441.68 L258.65 441.58 L259.56 441.48 L260.48 441.37 L261.41 441.27 L262.34 441.17 L263.28 441.06 L264.23 440.95 L265.18 440.85 L266.14 440.74 L267.10 440.63 L268.07 440.52 L269.05 440.41 L270.03 440.30 L271.02 440.18 L272.02 440.07 L273.02 439.95 L274.03 439.84 L275.05 439.72 L276.08 439.60 L277.11 439.48 L278.14 439.36 L279.19 439.24 L280.24 439.12 L281.30 439.00 L282.36 438.88 L283.44 438.75 L284.52 438.63 L285.60 438.50 L286.70 438.38 L287.80 438.25 L288.91 438.12 L290.03 438.00 L291.15 437.87 L292.28 437.74 L293.42 437.61 L294.57 437.47 L295.72 437.34 L296.88 437.21 L298.05 437.08 L299.23 436.94 L300.41 436.81 L301.61 436.67 L302.81 436.54 L304.02 436.40 L305.23 436.26 L306.46 436.12 L307.69 435.98 L308.93 435.85 L310.18 435.71 L311.44 435.56 L312.71 435.42 L313.98 435.28 L315.27 435.14 L316.56 435.00 L317.86 434.85 L319.17 434.71 L320.49 434.57 L321.82 434.42 L323.15 434.28 L324.50 434.13 L325.85 433.98 L327.21 433.84 L328.58 433.69 L329.97 433.54 L331.36 433.39 L332.76 433.24 L334.16 433.09 L335.58 432.94 L337.01 432.79 L338.45 432.64 L339.89 432.49 L341.35 432.34 L342.82 432.19 L344.29 432.04 L345.78 431.89 L347.27 431.73 L348.78 431.58 L350.30 431.43 L351.82 431.27 L353.36 431.12 L354.90 430.96 L356.46 430.81 L358.03 430.65 L359.60 430.50 L361.19 430.34 L362.79 430.19 L364.40 430.03 L366.02 429.87 L367.65 429.72 L369.29 429.56 L370.94 429.40 L372.61 429.24 L374.28 429.09 L375.97 428.93 L377.66 428.77 L379.37 428.61 L381.09 428.45 L382.82 428.29 L384.57 428.13 L386.32 427.98 L388.09 427.82 L389.86 427.66 L391.65 427.50 L393.45 427.34 L395.27 427.18 L397.09 427.02 L398.93 426.86 L400.78 426.70 L402.64 426.54 L404.52 426.37 L406.41 426.21 L408.31 426.05 L410.22 425.89 L412.14 425.73 L414.08 425.57 L416.03 425.41 L418.00 425.25 L419.98 425.09 L421.97 424.93 L423.97 424.76 L425.99 424.60 L428.02 424.44 L430.06 424.28 L432.12 424.12 L434.19 423.96 L436.28 423.80 L438.37 423.63 L440.49 423.47 L442.62 423.31 L444.76 423.15 L446.91 422.99 L449.08 422.83 L451.27 422.67 L453.47 422.51 L455.68 422.34 L457.91 422.18 L460.15 422.02 L462.41 421.86 L464.68 421.70 L466.97 421.54 L469.28 421.38 L471.60 421.22 L473.93 421.06 L476.28 420.90 L478.65 420.74 L481.03 420.58 L483.43 420.42 L485.84 420.26 L488.27 420.10 L490.71 419.94 L493.18 419.78 L495.66 419.62 L498.15 419.46 L500.66 419.30 L503.19 419.14 L505.74 418.98 L508.30 418.83 L510.88 418.67 L513.47 418.51 L516.09 418.35 L518.72 418.19 L521.37 418.04 L524.04 417.88 L526.72 417.72 L529.42 417.56 L532.14 417.41 L534.88 417.25 L537.64 417.09 L540.41 416.94 L543.21 416.78 L546.02 416.63 L548.85 416.47 L551.70 416.32 L554.57 416.16 L557.46 416.01 L560.36 415.85 L563.29 415.70 L566.24 415.54 L569.20 415.39 L572.19 415.24 L575.19 415.08 L578.22 414.93 L581.26 414.78 L584.33 414.63 L587.42 414.48 L590.52 414.32 L593.65 414.17 L596.80 414.02 L599.97 413.87 L603.16 413.72 L606.37 413.57 L609.61 413.42 L612.86 413.27 L616.14 413.12 L619.44 412.97 L622.76 412.82 L626.10 412.68 L629.46 412.53 L632.85 412.38 L636.26 412.23 L639.69 412.09 L643.15 411.94 L646.63 411.79 L650.13 411.65 L653.66 411.50 L657.20 411.36 L660.78 411.21 L664.37 411.07 L667.99 410.93 L671.64 410.78 L675.31 410.64 L679.00 410.50" stroke="#dd0000" stroke-width="3.6" stroke-dasharray="10.9 11.4" stroke-dashoffset="0.2"/>
<path d="M123.10 32.20 L123.11 36.25 L123.12 40.26 L123.14 44.24 L123.15 48.18 L123.17 52.09 L123.18 55.97 L123.19 59.82 L123.21 63.63 L123.22 67.42 L123.24 71.17 L123.25 74.89 L123.27 78.57 L123.28 82.23 L123.30 85.86 L123.31 89.45 L123.33 93.02 L123.34 96.55 L123.36 100.06 L123.37 103.54 L123.39 106.98 L123.40 110.40 L123.42 113.79 L123.44 117.15 L123.45 120.49 L123.47 123.79 L123.49 127.07 L123.50 130.32 L123.52 133.54 L123.54 136.74 L123.55 139.90 L123.57 143.05 L123.59 146.16 L123.61 149.25 L123.62 152.31 L123.64 155.35 L123.66 158.36 L123.68 161.35 L123.70 164.31 L123.71 167.25 L123.73 170.16 L123.75 173.05 L123.77 175.91 L123.79 178.75 L123.81 181.56 L123.83 184.36 L123.85 187.12 L123.87 189.87 L123.89 192.59 L123.91 195.29 L123.93 197.96 L123.95 200.62 L123.97 203.25 L123.99 205.85 L124.01 208.44 L124.03 211.01 L124.05 213.55 L124.07 216.07 L124.10 218.57 L124.12 221.05 L124.14 223.51 L124.16 225.94 L124.18 228.36 L124.21 230.76 L124.23 233.13 L124.25 235.49 L124.28 237.83 L124.30 240.14 L124.32 242.44 L124.35 244.72 L124.37 246.97 L124.39 249.21 L124.42 251.43 L124.44 253.63 L124.47 255.82 L124.49 257.98 L124.52 260.13 L124.54 262.25 L124.57 264.36 L124.59 266.45 L124.62 268.53 L124.65 270.58 L124.67 272.62 L124.70 274.64 L124.73 276.65 L124.75 278.63 L124.78 280.60 L124.81 282.56 L124.84 284.49 L124.87 286.41 L124.89 288.32 L124.92 290.21 L124.95 292.08 L124.98 293.93 L125.01 295.77 L125.04 297.60 L125.07 299.41 L125.10 301.20 L125.13 302.98 L125.16 304.74 L125.19 306.49 L125.22 308.22 L125.25 309.94 L125.28 311.64 L125.32 313.33 L125.35 315.00 L125.38 316.66 L125.41 318.31 L125.45 319.94 L125.48 321.56 L125.51 323.16 L125.55 324.75 L125.58 326.33 L125.61 327.89 L125.65 329.44 L125.68 330.97 L125.72 332.50 L125.75 334.01 L125.79 335.50 L125.83 336.98 L125.86 338.46 L125.90 339.91 L125.94 341.36 L125.97 342.79 L126.01 344.21 L126.05 345.62 L126.09 347.02 L126.13 348.40 L126.17 349.77 L126.20 351.13 L126.24 352.48 L126.28 353.82 L126.32 355.14 L126.37 356.46 L126.41 357.76 L126.45 359.05 L126.49 360.33 L126.53 361.60 L126.57 362.85 L126.62 364.10 L126.66 365.33 L126.70 366.56 L126.75 367.77 L126.79 368.98 L126.83 370.17 L126.88 371.35 L126.92 372.52 L126.97 373.68 L127.02 374.84 L127.06 375.98 L127.11 377.11 L127.16 378.23 L127.20 379.34 L127.25 380.44 L127.30 381.53 L127.35 382.62 L127.40 383.69 L127.45 384.75 L127.50 385.80 L127.55 386.85 L127.60 387.88 L127.65 388.91 L127.70 389.93 L127.76 390.93 L127.81 391.93 L127.86 392.92 L127.91 393.90 L127.97 394.87 L128.02 395.84 L128.08 396.79 L128.13 397.74 L128.19 398.67 L128.25 399.60 L128.30 400.52 L128.36 401.44 L128.42 402.34 L128.47 403.24 L128.53 404.12 L128.59 405.00 L128.65 405.87 L128.71 406.74 L128.77 407.59 L128.83 408.44 L128.90 409.28 L128.96 410.11 L129.02 410.94 L129.08 411.76 L129.15 412.57 L129.21 413.37 L129.28 414.16 L129.34 414.95 L129.41 415.73 L129.48 416.50 L129.54 417.27 L129.61 418.03 L129.68 418.78 L129.75 419.52 L129.82 420.26 L129.89 420.99 L129.96 421.72 L130.03 422.43 L130.10 423.14 L130.17 423.85 L130.25 424.54 L130.32 425.23 L130.39 425.92 L130.47 426.60 L130.54 427.27 L130.62 427.93 L130.70 428.59 L130.77 429.24 L130.85 429.89 L130.93 430.52 L131.01 431.16 L131.09 431.78 L131.17 432.41 L131.25 433.02 L131.33 433.63 L131.42 434.23 L131.50 434.83 L131.58 435.42 L131.67 436.00 L131.75 436.58 L131.84 437.16 L131.93 437.72 L132.01 438.29 L132.10 438.84 L132.19 439.39 L132.28 439.94 L132.37 440.48 L132.46 441.01 L132.56 441.54 L132.65 442.07 L132.74 442.59 L132.84 443.10 L132.93 443.61 L133.03 444.11 L133.13 444.61 L133.22 445.10 L133.32 445.58 L133.42 446.07 L133.52 446.54 L133.62 447.02 L133.73 447.48 L133.83 447.94 L133.93 448.40 L134.04 448.85 L134.14 449.30 L134.25 449.74 L134.36 450.18 L134.46 450.61 L134.57 451.04 L134.68 451.46 L134.79 451.88 L134.91 452.30 L135.02 452.71 L135.13 453.11 L135.25 453.51 L135.36 453.91 L135.48 454.30 L135.60 454.69 L135.72 455.07 L135.84 455.45 L135.96 455.82 L136.08 456.19 L136.20 456.56 L136.32 456.92 L136.45 457.27 L136.57 457.63 L136.70 457.98 L136.83 458.32 L136.96 458.66 L137.09 459.00 L137.22 459.33 L137.35 459.66 L137.48 459.98 L137.62 460.30 L137.75 460.62 L137.89 460.93 L138.03 461.23 L138.17 461.54 L138.31 461.84 L138.45 462.14 L138.59 462.43 L138.74 462.72 L138.88 463.00 L139.03 463.28 L139.18 463.56 L139.32 463.83 L139.47 464.10 L139.62 464.37 L139.78 464.63 L139.93 464.89 L140.09 465.15 L140.24 465.40 L140.40 465.65 L140.56 465.89 L140.72 466.13 L140.88 466.37 L141.04 466.60 L141.21 466.83 L141.37 467.06 L141.54 467.28 L141.71 467.50 L141.88 467.72 L142.05 467.93 L142.22 468.14 L142.40 468.35 L142.57 468.56 L142.75 468.76 L142.93 468.95 L143.11 469.15 L143.29 469.34 L143.48 469.52 L143.66 469.71 L143.85 469.89 L144.04 470.07 L144.22 470.24 L144.42 470.41 L144.61 470.58 L144.80 470.75 L145.00 470.91 L145.20 471.07 L145.40 471.22 L145.60 471.37 L145.80 471.52 L146.00 471.67 L146.21 471.82 L146.42 471.96 L146.63 472.09 L146.84 472.23 L147.05 472.36 L147.27 472.49 L147.48 472.62 L147.70 472.74 L147.92 472.86 L148.15 472.98 L148.37 473.09 L148.60 473.20 L148.82 473.31 L149.05 473.42 L149.29 473.52 L149.52 473.62 L149.75 473.72 L149.99 473.82 L150.23 473.91 L150.47 474.00 L150.72 474.09 L150.96 474.17 L151.21 474.25 L151.46 474.33 L151.71 474.41 L151.97 474.48 L152.22 474.55 L152.48 474.62 L152.74 474.69 L153.01 474.75 L153.27 474.81 L153.54 474.87 L153.81 474.92 L154.08 474.98 L154.35 475.03 L154.63 475.07 L154.91 475.12 L155.19 475.16 L155.47 475.20 L155.76 475.24 L156.05 475.27 L156.34 475.31 L156.63 475.34 L156.93 475.37 L157.22 475.39 L157.52 475.41 L157.83 475.43 L158.13 475.45 L158.44 475.47 L158.75 475.48 L159.07 475.49 L159.38 475.50 L159.70 475.51 L160.02 475.51 L160.35 475.51 L160.67 475.51 L161.00 475.51 L161.33 475.51 L161.67 475.50 L162.01 475.49 L162.35 475.48 L162.69 475.46 L163.04 475.45 L163.39 475.43 L163.74 475.41 L164.09 475.38 L164.45 475.36 L164.81 475.33 L165.18 475.30 L165.55 475.27 L165.92 475.23 L166.29 475.20 L166.67 475.16 L167.05 475.12 L167.43 475.08 L167.82 475.03 L168.21 474.98 L168.60 474.94 L169.00 474.88 L169.40 474.83 L169.80 474.78 L170.20 474.72 L170.61 474.66 L171.03 474.60 L171.44 474.53 L171.86 474.47 L172.29 474.40 L172.71 474.33 L173.15 474.26 L173.58 474.19 L174.02 474.11 L174.46 474.03 L174.91 473.95 L175.35 473.87 L175.81 473.79 L176.26 473.70 L176.73 473.62 L177.19 473.53 L177.66 473.44 L178.13 473.34 L178.61 473.25 L179.09 473.15 L179.57 473.05 L180.06 472.95 L180.55 472.85 L181.05 472.75 L181.55 472.64 L182.06 472.53 L182.57 472.42 L183.08 472.31 L183.60 472.20 L184.12 472.08 L184.65 471.96 L185.18 471.85 L185.71 471.73 L186.25 471.60 L186.80 471.48 L187.35 471.35 L187.90 471.23 L188.46 471.10 L189.02 470.97 L189.59 470.83 L190.16 470.70 L190.74 470.56 L191.32 470.43 L191.91 470.29 L192.50 470.15 L193.10 470.00 L193.70 469.86 L194.31 469.71 L194.92 469.57 L195.54 469.42 L196.16 469.27 L196.79 469.11 L197.42 468.96 L198.06 468.80 L198.71 468.65 L199.36 468.49 L200.01 468.33 L200.67 468.17 L201.34 468.00 L202.01 467.84 L202.69 467.67 L203.37 467.51 L204.06 467.34 L204.75 467.17 L205.45 467.00 L206.16 466.82 L206.87 466.65 L207.59 466.47 L208.31 466.29 L209.05 466.11 L209.78 465.93 L210.52 465.75 L211.27 465.57 L212.03 465.39 L212.79 465.20 L213.56 465.01 L214.33 464.82 L215.11 464.63 L215.90 464.44 L216.69 464.25 L217.50 464.06 L218.30 463.86 L219.12 463.67 L219.94 463.47 L220.77 463.27 L221.60 463.07 L222.44 462.87 L223.29 462.67 L224.15 462.46 L225.01 462.26 L225.88 462.05 L226.76 461.85 L227.65 461.64 L228.54 461.43 L229.44 461.22 L230.35 461.01 L231.26 460.79 L232.19 460.58 L233.12 460.37 L234.06 460.15 L235.00 459.93 L235.96 459.72 L236.92 459.50 L237.89 459.28 L238.87 459.06 L239.86 458.83 L240.85 458.61 L241.86 458.39 L242.87 458.16 L243.89 457.94 L244.92 457.71 L245.96 457.48 L247.01 457.26 L248.06 457.03 L249.13 456.80 L250.20 456.56 L251.28 456.33 L252.38 456.10 L253.48 455.87 L254.59 455.63 L255.71 455.40 L256.84 455.16 L257.97 454.92 L259.12 454.69 L260.28 454.45 L261.45 454.21 L262.62 453.97 L263.81 453.73 L265.01 453.49 L266.22 453.25 L267.43 453.00 L268.66 452.76 L269.90 452.52 L271.15 452.27 L272.41 452.03 L273.68 451.78 L274.96 451.54 L276.25 451.29 L277.55 451.04 L278.86 450.79 L280.18 450.54 L281.52 450.30 L282.87 450.05 L284.22 449.80 L285.59 449.54 L286.97 449.29 L288.36 449.04 L289.77 448.79 L291.18 448.54 L292.61 448.28 L294.05 448.03 L295.50 447.78 L296.97 447.52 L298.44 447.27 L299.93 447.01 L301.43 446.76 L302.94 446.50 L304.47 446.25 L306.01 445.99 L307.56 445.73 L309.13 445.48 L310.71 445.22 L312.30 444.96 L313.90 444.71 L315.52 444.45 L317.15 444.19 L318.80 443.93 L320.46 443.67 L322.13 443.41 L323.82 443.16 L325.52 442.90 L327.24 442.64 L328.97 442.38 L330.71 442.12 L332.47 441.86 L334.25 441.60 L336.04 441.34 L337.84 441.08 L339.66 440.82 L341.50 440.56 L343.35 440.30 L345.22 440.04 L347.10 439.78 L348.99 439.52 L350.91 439.26 L352.84 439.00 L354.78 438.74 L356.75 438.48 L358.73 438.22 L360.72 437.96 L362.73 437.70 L364.76 437.44 L366.81 437.18 L368.87 436.92 L370.95 436.66 L373.05 436.40 L375.17 436.14 L377.30 435.88 L379.45 435.63 L381.62 435.37 L383.81 435.11 L386.02 434.85 L388.24 434.59 L390.49 434.33 L392.75 434.08 L395.03 433.82 L397.33 433.56 L399.65 433.31 L401.99 433.05 L404.35 432.79 L406.73 432.54 L409.13 432.28 L411.55 432.03 L413.99 431.77 L416.45 431.52 L418.93 431.26 L421.44 431.01 L423.96 430.75 L426.50 430.50 L429.07 430.25 L431.66 430.00 L434.27 429.74 L436.90 429.49 L439.55 429.24 L442.22 428.99 L444.92 428.74 L447.64 428.49 L450.39 428.24 L453.15 427.99 L455.94 427.74 L458.76 427.49 L461.59 427.25 L464.45 427.00 L467.34 426.75 L470.25 426.51 L473.18 426.26 L476.14 426.01 L479.12 425.77 L482.13 425.53 L485.17 425.28 L488.23 425.04 L491.31 424.80 L494.42 424.56 L497.56 424.31 L500.72 424.07 L503.91 423.83 L507.13 423.59 L510.37 423.36 L513.64 423.12 L516.94 422.88 L520.27 422.64 L523.62 422.41 L527.01 422.17 L530.42 421.94 L533.86 421.70 L537.33 421.47 L540.82 421.23 L544.35 421.00 L547.91 420.77 L551.50 420.54 L555.11 420.31 L558.76 420.08 L562.44 419.85 L566.15 419.62 L569.89 419.40 L573.66 419.17 L577.46 418.94 L581.30 418.72 L585.17 418.49 L589.07 418.27 L593.00 418.05 L596.97 417.82 L600.97 417.60 L605.00 417.38 L609.07 417.16 L613.17 416.94 L617.31 416.72 L621.48 416.50 L625.68 416.29 L629.92 416.07 L634.20 415.86 L638.51 415.64 L642.86 415.43 L647.25 415.21 L651.67 415.00 L656.13 414.79 L660.63 414.58 L665.16 414.37 L669.74 414.16 L674.35 413.95 L679.00 413.75" stroke="#dd0000" stroke-width="3.6" stroke-dasharray="10.9 11.4" stroke-dashoffset="0.2"/>
<path d="M122.03 32.20 L122.04 37.02 L122.04 41.79 L122.05 46.51 L122.05 51.19 L122.06 55.82 L122.06 60.40 L122.07 64.94 L122.08 69.43 L122.08 73.88 L122.09 78.28 L122.09 82.65 L122.10 86.96 L122.10 91.24 L122.11 95.47 L122.12 99.66 L122.12 103.81 L122.13 107.92 L122.14 111.98 L122.14 116.01 L122.15 120.00 L122.15 123.94 L122.16 127.85 L122.17 131.72 L122.17 135.55 L122.18 139.34 L122.19 143.10 L122.20 146.81 L122.20 150.50 L122.21 154.14 L122.22 157.75 L122.22 161.32 L122.23 164.86 L122.24 168.36 L122.25 171.82 L122.25 175.26 L122.26 178.65 L122.27 182.02 L122.28 185.35 L122.28 188.65 L122.29 191.91 L122.30 195.15 L122.31 198.35 L122.32 201.51 L122.32 204.65 L122.33 207.76 L122.34 210.83 L122.35 213.88 L122.36 216.89 L122.37 219.88 L122.37 222.83 L122.38 225.76 L122.39 228.65 L122.40 231.52 L122.41 234.36 L122.42 237.17 L122.43 239.95 L122.44 242.71 L122.45 245.43 L122.46 248.14 L122.47 250.81 L122.48 253.46 L122.48 256.08 L122.49 258.67 L122.50 261.24 L122.51 263.78 L122.52 266.30 L122.54 268.79 L122.55 271.26 L122.56 273.70 L122.57 276.12 L122.58 278.52 L122.59 280.89 L122.60 283.24 L122.61 285.56 L122.62 287.86 L122.63 290.14 L122.64 292.39 L122.65 294.63 L122.67 296.84 L122.68 299.02 L122.69 301.19 L122.70 303.34 L122.71 305.46 L122.73 307.56 L122.74 309.64 L122.75 311.70 L122.76 313.74 L122.78 315.76 L122.79 317.76 L122.80 319.74 L122.81 321.70 L122.83 323.64 L122.84 325.56 L122.85 327.46 L122.87 329.34 L122.88 331.21 L122.90 333.05 L122.91 334.88 L122.92 336.69 L122.94 338.48 L122.95 340.25 L122.97 342.00 L122.98 343.74 L123.00 345.46 L123.01 347.16 L123.03 348.85 L123.04 350.51 L123.06 352.16 L123.07 353.80 L123.09 355.42 L123.10 357.02 L123.12 358.61 L123.14 360.18 L123.15 361.73 L123.17 363.27 L123.19 364.79 L123.20 366.30 L123.22 367.79 L123.24 369.27 L123.25 370.73 L123.27 372.18 L123.29 373.61 L123.31 375.03 L123.33 376.44 L123.34 377.83 L123.36 379.20 L123.38 380.57 L123.40 381.92 L123.42 383.25 L123.44 384.57 L123.46 385.88 L123.48 387.18 L123.50 388.46 L123.52 389.73 L123.54 390.98 L123.56 392.23 L123.58 393.46 L123.60 394.68 L123.62 395.88 L123.64 397.08 L123.66 398.26 L123.68 399.43 L123.70 400.58 L123.73 401.73 L123.75 402.86 L123.77 403.99 L123.79 405.10 L123.82 406.20 L123.84 407.29 L123.86 408.36 L123.89 409.43 L123.91 410.49 L123.94 411.53 L123.96 412.57 L123.98 413.59 L124.01 414.60 L124.03 415.61 L124.06 416.60 L124.09 417.58 L124.11 418.55 L124.14 419.51 L124.16 420.47 L124.19 421.41 L124.22 422.34 L124.24 423.26 L124.27 424.18 L124.30 425.08 L124.33 425.98 L124.36 426.86 L124.38 427.74 L124.41 428.61 L124.44 429.46 L124.47 430.31 L124.50 431.15 L124.53 431.99 L124.56 432.81 L124.59 433.62 L124.62 434.43 L124.65 435.23 L124.69 436.02 L124.72 436.80 L124.75 437.57 L124.78 438.34 L124.82 439.09 L124.85 439.84 L124.88 440.58 L124.92 441.32 L124.95 442.04 L124.98 442.76 L125.02 443.47 L125.06 444.17 L125.09 444.87 L125.13 445.55 L125.16 446.23 L125.20 446.91 L125.24 447.57 L125.27 448.23 L125.31 448.88 L125.35 449.53 L125.39 450.17 L125.43 450.80 L125.47 451.42 L125.51 452.04 L125.55 452.65 L125.59 453.25 L125.63 453.85 L125.67 454.44 L125.71 455.03 L125.75 455.61 L125.79 456.18 L125.84 456.74 L125.88 457.30 L125.93 457.86 L125.97 458.41 L126.01 458.95 L126.06 459.48 L126.10 460.01 L126.15 460.53 L126.20 461.05 L126.24 461.56 L126.29 462.07 L126.34 462.57 L126.39 463.07 L126.44 463.56 L126.49 464.04 L126.54 464.52 L126.59 464.99 L126.64 465.46 L126.69 465.92 L126.74 466.38 L126.79 466.83 L126.85 467.28 L126.90 467.72 L126.95 468.15 L127.01 468.59 L127.06 469.01 L127.12 469.43 L127.17 469.85 L127.23 470.26 L127.29 470.67 L127.35 471.07 L127.41 471.47 L127.46 471.86 L127.52 472.25 L127.58 472.63 L127.65 473.01 L127.71 473.38 L127.77 473.75 L127.83 474.12 L127.89 474.48 L127.96 474.83 L128.02 475.18 L128.09 475.53 L128.15 475.87 L128.22 476.21 L128.29 476.55 L128.36 476.88 L128.42 477.20 L128.49 477.52 L128.56 477.84 L128.63 478.16 L128.71 478.47 L128.78 478.77 L128.85 479.07 L128.92 479.37 L129.00 479.66 L129.07 479.95 L129.15 480.24 L129.23 480.52 L129.30 480.80 L129.38 481.07 L129.46 481.35 L129.54 481.61 L129.62 481.88 L129.70 482.14 L129.78 482.39 L129.87 482.64 L129.95 482.89 L130.03 483.14 L130.12 483.38 L130.21 483.62 L130.29 483.85 L130.38 484.08 L130.47 484.31 L130.56 484.54 L130.65 484.76 L130.74 484.98 L130.83 485.19 L130.93 485.40 L131.02 485.61 L131.12 485.81 L131.21 486.02 L131.31 486.21 L131.41 486.41 L131.51 486.60 L131.61 486.79 L131.71 486.97 L131.81 487.16 L131.91 487.34 L132.02 487.51 L132.12 487.68 L132.23 487.85 L132.34 488.02 L132.44 488.19 L132.55 488.35 L132.66 488.50 L132.78 488.66 L132.89 488.81 L133.00 488.96 L133.12 489.11 L133.23 489.25 L133.35 489.39 L133.47 489.53 L133.59 489.66 L133.71 489.80 L133.83 489.93 L133.96 490.05 L134.08 490.18 L134.21 490.30 L134.33 490.42 L134.46 490.53 L134.59 490.64 L134.72 490.75 L134.85 490.86 L134.99 490.97 L135.12 491.07 L135.26 491.17 L135.40 491.27 L135.54 491.36 L135.68 491.45 L135.82 491.54 L135.96 491.63 L136.11 491.71 L136.25 491.79 L136.40 491.87 L136.55 491.95 L136.70 492.02 L136.85 492.09 L137.00 492.16 L137.16 492.23 L137.32 492.29 L137.47 492.35 L137.63 492.41 L137.80 492.47 L137.96 492.52 L138.12 492.57 L138.29 492.62 L138.46 492.67 L138.63 492.72 L138.80 492.76 L138.97 492.80 L139.15 492.83 L139.32 492.87 L139.50 492.90 L139.68 492.93 L139.86 492.96 L140.05 492.99 L140.23 493.01 L140.42 493.03 L140.61 493.05 L140.80 493.07 L140.99 493.08 L141.19 493.09 L141.38 493.10 L141.58 493.11 L141.78 493.11 L141.99 493.12 L142.19 493.12 L142.40 493.12 L142.61 493.11 L142.82 493.11 L143.03 493.10 L143.25 493.09 L143.46 493.07 L143.68 493.06 L143.91 493.04 L144.13 493.02 L144.36 493.00 L144.58 492.98 L144.82 492.95 L145.05 492.93 L145.28 492.90 L145.52 492.86 L145.76 492.83 L146.00 492.79 L146.25 492.75 L146.50 492.71 L146.75 492.67 L147.00 492.62 L147.25 492.58 L147.51 492.53 L147.77 492.48 L148.04 492.42 L148.30 492.37 L148.57 492.31 L148.84 492.25 L149.11 492.19 L149.39 492.13 L149.67 492.06 L149.95 491.99 L150.23 491.92 L150.52 491.85 L150.81 491.78 L151.10 491.70 L151.40 491.62 L151.70 491.54 L152.00 491.46 L152.31 491.37 L152.61 491.29 L152.93 491.20 L153.24 491.11 L153.56 491.02 L153.88 490.92 L154.20 490.82 L154.53 490.73 L154.86 490.63 L155.19 490.52 L155.53 490.42 L155.87 490.31 L156.21 490.20 L156.56 490.09 L156.91 489.98 L157.27 489.87 L157.62 489.75 L157.98 489.63 L158.35 489.51 L158.72 489.39 L159.09 489.26 L159.47 489.14 L159.85 489.01 L160.23 488.88 L160.62 488.75 L161.01 488.61 L161.40 488.47 L161.80 488.34 L162.21 488.20 L162.61 488.05 L163.02 487.91 L163.44 487.77 L163.86 487.62 L164.28 487.47 L164.71 487.32 L165.14 487.16 L165.58 487.01 L166.02 486.85 L166.46 486.69 L166.91 486.53 L167.37 486.37 L167.83 486.20 L168.29 486.04 L168.76 485.87 L169.23 485.70 L169.71 485.52 L170.19 485.35 L170.68 485.17 L171.17 485.00 L171.67 484.82 L172.17 484.64 L172.67 484.45 L173.19 484.27 L173.70 484.08 L174.22 483.89 L174.75 483.70 L175.28 483.51 L175.82 483.31 L176.37 483.12 L176.91 482.92 L177.47 482.72 L178.03 482.52 L178.59 482.32 L179.16 482.11 L179.74 481.90 L180.32 481.70 L180.91 481.49 L181.51 481.27 L182.11 481.06 L182.71 480.84 L183.32 480.63 L183.94 480.41 L184.57 480.19 L185.20 479.97 L185.83 479.74 L186.48 479.52 L187.13 479.29 L187.78 479.06 L188.45 478.83 L189.12 478.60 L189.79 478.36 L190.48 478.13 L191.17 477.89 L191.86 477.65 L192.57 477.41 L193.28 477.17 L193.99 476.93 L194.72 476.68 L195.45 476.44 L196.19 476.19 L196.94 475.94 L197.69 475.69 L198.45 475.43 L199.22 475.18 L200.00 474.92 L200.79 474.67 L201.58 474.41 L202.38 474.15 L203.19 473.89 L204.01 473.62 L204.83 473.36 L205.66 473.09 L206.51 472.83 L207.36 472.56 L208.22 472.29 L209.08 472.01 L209.96 471.74 L210.84 471.47 L211.74 471.19 L212.64 470.91 L213.55 470.64 L214.47 470.36 L215.40 470.08 L216.34 469.79 L217.29 469.51 L218.25 469.23 L219.21 468.94 L220.19 468.65 L221.18 468.36 L222.17 468.07 L223.18 467.78 L224.20 467.49 L225.23 467.20 L226.26 466.90 L227.31 466.61 L228.37 466.31 L229.44 466.01 L230.52 465.72 L231.61 465.42 L232.71 465.11 L233.82 464.81 L234.94 464.51 L236.08 464.21 L237.22 463.90 L238.38 463.60 L239.55 463.29 L240.73 462.98 L241.92 462.67 L243.13 462.36 L244.34 462.05 L245.57 461.74 L246.81 461.43 L248.07 461.11 L249.33 460.80 L250.61 460.49 L251.90 460.17 L253.21 459.85 L254.52 459.54 L255.85 459.22 L257.20 458.90 L258.55 458.58 L259.92 458.26 L261.31 457.94 L262.71 457.62 L264.12 457.30 L265.55 456.97 L266.99 456.65 L268.44 456.33 L269.91 456.00 L271.39 455.68 L272.89 455.35 L274.41 455.03 L275.94 454.70 L277.48 454.37 L279.04 454.04 L280.62 453.72 L282.21 453.39 L283.82 453.06 L285.44 452.73 L287.08 452.40 L288.73 452.07 L290.41 451.74 L292.10 451.41 L293.80 451.08 L295.52 450.75 L297.27 450.42 L299.02 450.08 L300.80 449.75 L302.59 449.42 L304.40 449.09 L306.23 448.76 L308.08 448.42 L309.95 448.09 L311.83 447.76 L313.73 447.43 L315.66 447.09 L317.60 446.76 L319.56 446.43 L321.54 446.09 L323.54 445.76 L325.56 445.43 L327.60 445.09 L329.66 444.76 L331.74 444.43 L333.85 444.10 L335.97 443.76 L338.11 443.43 L340.28 443.10 L342.47 442.77 L344.68 442.43 L346.91 442.10 L349.16 441.77 L351.44 441.44 L353.74 441.11 L356.06 440.78 L358.41 440.45 L360.78 440.12 L363.17 439.79 L365.59 439.46 L368.03 439.13 L370.50 438.80 L372.99 438.47 L375.50 438.14 L378.04 437.81 L380.61 437.49 L383.20 437.16 L385.81 436.83 L388.46 436.51 L391.13 436.18 L393.82 435.86 L396.55 435.53 L399.30 435.21 L402.08 434.88 L404.88 434.56 L407.72 434.24 L410.58 433.92 L413.47 433.60 L416.39 433.28 L419.34 432.96 L422.32 432.64 L425.33 432.32 L428.36 432.00 L431.43 431.69 L434.53 431.37 L437.66 431.06 L440.82 430.74 L444.02 430.43 L447.24 430.11 L450.50 429.80 L453.79 429.49 L457.11 429.18 L460.47 428.87 L463.86 428.56 L467.28 428.25 L470.74 427.95 L474.24 427.64 L477.76 427.33 L481.33 427.03 L484.92 426.73 L488.56 426.42 L492.23 426.12 L495.94 425.82 L499.68 425.52 L503.46 425.22 L507.28 424.92 L511.14 424.63 L515.04 424.33 L518.97 424.04 L522.95 423.74 L526.96 423.45 L531.02 423.16 L535.11 422.87 L539.25 422.58 L543.43 422.29 L547.65 422.00 L551.91 421.72 L556.21 421.43 L560.56 421.15 L564.95 420.86 L569.39 420.58 L573.87 420.30 L578.39 420.02 L582.96 419.74 L587.57 419.46 L592.24 419.19 L596.94 418.91 L601.70 418.64 L606.50 418.37 L611.35 418.09 L616.25 417.82 L621.20 417.55 L626.19 417.29 L631.24 417.02 L636.34 416.75 L641.49 416.49 L646.69 416.23 L651.94 415.96 L657.25 415.70 L662.60 415.44 L668.01 415.19 L673.48 414.93 L679.00 414.67" stroke="#dd0000" stroke-width="3.6" stroke-dasharray="10.9 11.4" stroke-dashoffset="0.2"/>
<path d="M121.50 519.58 L123.36 518.19 L125.23 516.84 L127.09 515.51 L128.96 514.20 L130.82 512.92 L132.69 511.67 L134.55 510.44 L136.42 509.23 L138.28 508.04 L140.15 506.88 L142.01 505.73 L143.87 504.61 L145.74 503.51 L147.60 502.42 L149.47 501.36 L151.33 500.31 L153.20 499.28 L155.06 498.27 L156.93 497.28 L158.79 496.30 L160.66 495.34 L162.52 494.40 L164.38 493.47 L166.25 492.55 L168.11 491.65 L169.98 490.76 L171.84 489.89 L173.71 489.03 L175.57 488.19 L177.44 487.36 L179.30 486.54 L181.17 485.73 L183.03 484.94 L184.89 484.15 L186.76 483.38 L188.62 482.62 L190.49 481.88 L192.35 481.14 L194.22 480.41 L196.08 479.69 L197.95 478.99 L199.81 478.29 L201.68 477.60 L203.54 476.93 L205.40 476.26 L207.27 475.60 L209.13 474.95 L211.00 474.31 L212.86 473.68 L214.73 473.05 L216.59 472.44 L218.46 471.83 L220.32 471.23 L222.19 470.64 L224.05 470.06 L225.91 469.48 L227.78 468.91 L229.64 468.35 L231.51 467.80 L233.37 467.25 L235.24 466.71 L237.10 466.17 L238.97 465.64 L240.83 465.12 L242.70 464.61 L244.56 464.10 L246.42 463.60 L248.29 463.10 L250.15 462.61 L252.02 462.12 L253.88 461.64 L255.75 461.17 L257.61 460.70 L259.48 460.24 L261.34 459.78 L263.21 459.33 L265.07 458.88 L266.93 458.44 L268.80 458.00 L270.66 457.57 L272.53 457.14 L274.39 456.72 L276.26 456.30 L278.12 455.89 L279.99 455.48 L281.85 455.08 L283.72 454.67 L285.58 454.28 L287.44 453.89 L289.31 453.50 L291.17 453.11 L293.04 452.74 L294.90 452.36 L296.77 451.99 L298.63 451.62 L300.50 451.25 L302.36 450.89 L304.23 450.54 L306.09 450.18 L307.95 449.83 L309.82 449.49 L311.68 449.14 L313.55 448.80 L315.41 448.47 L317.28 448.14 L319.14 447.81 L321.01 447.48 L322.87 447.16 L324.74 446.84 L326.60 446.52 L328.46 446.20 L330.33 445.89 L332.19 445.58 L334.06 445.28 L335.92 444.98 L337.79 444.68 L339.65 444.38 L341.52 444.09 L343.38 443.79 L345.25 443.51 L347.11 443.22 L348.97 442.94 L350.84 442.65 L352.70 442.38 L354.57 442.10 L356.43 441.83 L358.30 441.55 L360.16 441.29 L362.03 441.02 L363.89 440.75 L365.76 440.49 L367.62 440.23 L369.48 439.98 L371.35 439.72 L373.21 439.47 L375.08 439.22 L376.94 438.97 L378.81 438.72 L380.67 438.48 L382.54 438.23 L384.40 437.99 L386.27 437.75 L388.13 437.52 L389.99 437.28 L391.86 437.05 L393.72 436.82 L395.59 436.59 L397.45 436.36 L399.32 436.14 L401.18 435.91 L403.05 435.69 L404.91 435.47 L406.78 435.25 L408.64 435.04 L410.51 434.82 L412.37 434.61 L414.23 434.40 L416.10 434.19 L417.96 433.98 L419.83 433.77 L421.69 433.57 L423.56 433.36 L425.42 433.16 L427.29 432.96 L429.15 432.76 L431.02 432.57 L432.88 432.37 L434.74 432.18 L436.61 431.98 L438.47 431.79 L440.34 431.60 L442.20 431.41 L444.07 431.22 L445.93 431.04 L447.80 430.85 L449.66 430.67 L451.53 430.49 L453.39 430.31 L455.25 430.13 L457.12 429.95 L458.98 429.77 L460.85 429.60 L462.71 429.42 L464.58 429.25 L466.44 429.08 L468.31 428.91 L470.17 428.74 L472.04 428.57 L473.90 428.40 L475.76 428.24 L477.63 428.07 L479.49 427.91 L481.36 427.75 L483.22 427.58 L485.09 427.42 L486.95 427.26 L488.82 427.11 L490.68 426.95 L492.55 426.79 L494.41 426.64 L496.27 426.48 L498.14 426.33 L500.00 426.18 L501.87 426.03 L503.73 425.88 L505.60 425.73 L507.46 425.58 L509.33 425.43 L511.19 425.29 L513.06 425.14 L514.92 425.00 L516.78 424.86 L518.65 424.71 L520.51 424.57 L522.38 424.43 L524.24 424.29 L526.11 424.15 L527.97 424.01 L529.84 423.88 L531.70 423.74 L533.57 423.61 L535.43 423.47 L537.29 423.34 L539.16 423.20 L541.02 423.07 L542.89 422.94 L544.75 422.81 L546.62 422.68 L548.48 422.55 L550.35 422.42 L552.21 422.30 L554.08 422.17 L555.94 422.04 L557.80 421.92 L559.67 421.79 L561.53 421.67 L563.40 421.55 L565.26 421.43 L567.13 421.31 L568.99 421.18 L570.86 421.06 L572.72 420.95 L574.59 420.83 L576.45 420.71 L578.31 420.59 L580.18 420.48 L582.04 420.36 L583.91 420.24 L585.77 420.13 L587.64 420.02 L589.50 419.90 L591.37 419.79 L593.23 419.68 L595.10 419.57 L596.96 419.46 L598.82 419.35 L600.69 419.24 L602.55 419.13 L604.42 419.02 L606.28 418.91 L608.15 418.81 L610.01 418.70 L611.88 418.59 L613.74 418.49 L615.61 418.38 L617.47 418.28 L619.33 418.18 L621.20 418.07 L623.06 417.97 L624.93 417.87 L626.79 417.77 L628.66 417.67 L630.52 417.57 L632.39 417.47 L634.25 417.37 L636.12 417.27 L637.98 417.17 L639.84 417.07 L641.71 416.98 L643.57 416.88 L645.44 416.78 L647.30 416.69 L649.17 416.59 L651.03 416.50 L652.90 416.40 L654.76 416.31 L656.63 416.22 L658.49 416.13 L660.35 416.03 L662.22 415.94 L664.08 415.85 L665.95 415.76 L667.81 415.67 L669.68 415.58 L671.54 415.49 L673.41 415.40 L675.27 415.31 L677.14 415.23 L679.00 415.14" stroke="#00a600" stroke-width="4.5"/>
</g>
<g font-family="'Liberation Serif', serif" font-size="34" fill="#000">
<g font-size="35">
<text x="108.7" y="535.9" text-anchor="end">0</text>
<text x="108.1" y="394.9" text-anchor="end" font-style="italic">p</text>
<text x="108.1" y="255.6" text-anchor="end" font-style="italic">p</text>
<text transform="translate(89.1 255.6) scale(0.88 1)" text-anchor="end" font-style="italic">2</text>
<text x="108.1" y="116.2" text-anchor="end" font-style="italic">p</text>
<text transform="translate(88.3 116.2) scale(0.84 1)" text-anchor="end" font-style="italic">3</text>
<text x="121.6" y="629.6" text-anchor="middle">0</text>
<text x="307.1" y="629.6" text-anchor="middle">1</text>
<text x="493.2" y="629.6" text-anchor="middle">2</text>
<text x="678.6" y="629.6" text-anchor="middle">3</text>
<text x="381.5" y="682.5" font-style="italic">T</text>
<text x="407.1" y="665.7" font-style="italic" font-size="23.5">p</text>
</g>
<text transform="translate(39.3 602.7) rotate(-90)">Logarithmic</text>
<text transform="translate(39.3 426.1) rotate(-90)">derivative</text>
<text transform="translate(39.3 273.9) rotate(-90)" xml:space="preserve"><tspan font-style="italic">w</tspan> = d ln </text>
<text transform="translate(39.3 141.5) rotate(-90) scale(1.25 1.0)" text-anchor="middle" stroke="#000" stroke-width="0.4">σ</text>
<text transform="translate(39.3 133.5) rotate(-90)" xml:space="preserve">  / d ln <tspan font-style="italic">T</tspan></text>
</g>
</svg>
</body></html>
